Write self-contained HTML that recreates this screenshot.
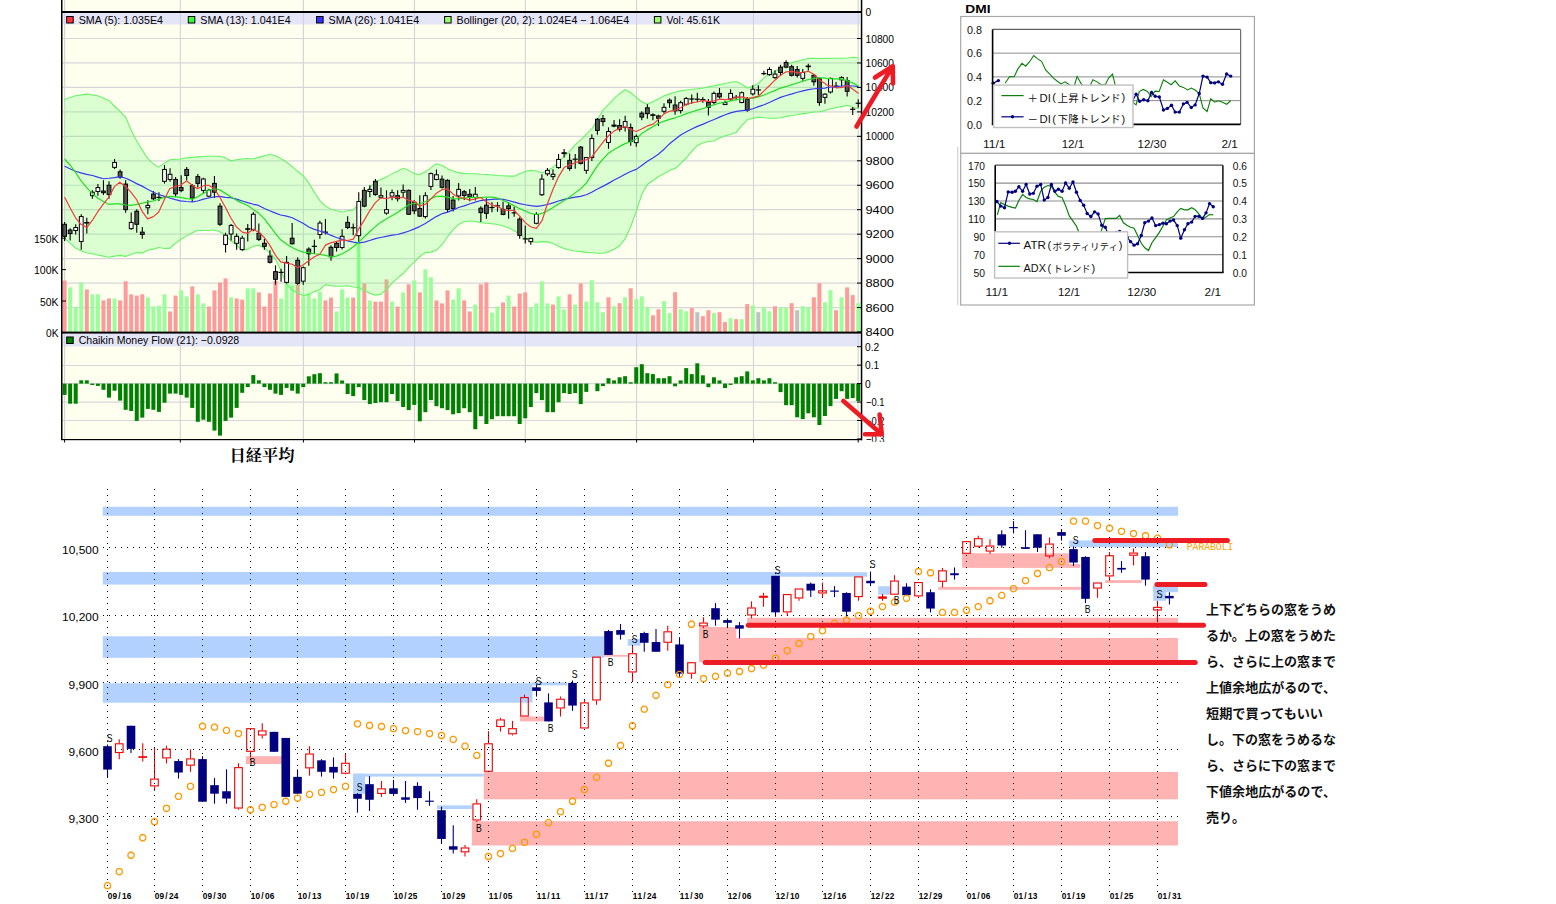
<!DOCTYPE html>
<html><head><meta charset="utf-8"><title>Nikkei chart</title>
<style>html,body{margin:0;padding:0;background:#fff;}svg{display:block;}</style></head>
<body><svg width="1556" height="904" viewBox="0 0 1556 904">
<rect width="1556" height="904" fill="#fff"/>
<rect x="62" y="0" width="799.5" height="439.5" fill="#FFFFF0"/>
<line x1="62" y1="307.54" x2="861.5" y2="307.54" stroke="#D6D6D9" stroke-width="1.2"/>
<line x1="62" y1="283.08" x2="861.5" y2="283.08" stroke="#D6D6D9" stroke-width="1.2"/>
<line x1="62" y1="258.63" x2="861.5" y2="258.63" stroke="#D6D6D9" stroke-width="1.2"/>
<line x1="62" y1="234.17" x2="861.5" y2="234.17" stroke="#D6D6D9" stroke-width="1.2"/>
<line x1="62" y1="209.71" x2="861.5" y2="209.71" stroke="#D6D6D9" stroke-width="1.2"/>
<line x1="62" y1="185.25" x2="861.5" y2="185.25" stroke="#D6D6D9" stroke-width="1.2"/>
<line x1="62" y1="160.79" x2="861.5" y2="160.79" stroke="#D6D6D9" stroke-width="1.2"/>
<line x1="62" y1="136.34" x2="861.5" y2="136.34" stroke="#D6D6D9" stroke-width="1.2"/>
<line x1="62" y1="111.88" x2="861.5" y2="111.88" stroke="#D6D6D9" stroke-width="1.2"/>
<line x1="62" y1="87.42" x2="861.5" y2="87.42" stroke="#D6D6D9" stroke-width="1.2"/>
<line x1="62" y1="62.96" x2="861.5" y2="62.96" stroke="#D6D6D9" stroke-width="1.2"/>
<line x1="62" y1="38.5" x2="861.5" y2="38.5" stroke="#D6D6D9" stroke-width="1.2"/>
<line x1="62" y1="365.5" x2="861.5" y2="365.5" stroke="#D6D6D9" stroke-width="1.2"/>
<line x1="62" y1="383.6" x2="861.5" y2="383.6" stroke="#D6D6D9" stroke-width="1.2"/>
<line x1="62" y1="402.1" x2="861.5" y2="402.1" stroke="#D6D6D9" stroke-width="1.2"/>
<line x1="62" y1="420.5" x2="861.5" y2="420.5" stroke="#D6D6D9" stroke-width="1.2"/>
<line x1="64.6" y1="0" x2="64.6" y2="439" stroke="#D6D6D9" stroke-width="1.2"/>
<line x1="180.3" y1="0" x2="180.3" y2="439" stroke="#D6D6D9" stroke-width="1.2"/>
<line x1="303.4" y1="0" x2="303.4" y2="439" stroke="#D6D6D9" stroke-width="1.2"/>
<line x1="414.5" y1="0" x2="414.5" y2="439" stroke="#D6D6D9" stroke-width="1.2"/>
<line x1="525.3" y1="0" x2="525.3" y2="439" stroke="#D6D6D9" stroke-width="1.2"/>
<line x1="636.6" y1="0" x2="636.6" y2="439" stroke="#D6D6D9" stroke-width="1.2"/>
<line x1="753.5" y1="0" x2="753.5" y2="439" stroke="#D6D6D9" stroke-width="1.2"/>
<line x1="858.2" y1="0" x2="858.2" y2="439" stroke="#D6D6D9" stroke-width="1.2"/>
<rect x="62.6" y="280.5" width="4" height="51.5" fill="#FF9A9A"/>
<rect x="68.15" y="287.4" width="4" height="44.6" fill="#9AFF9A"/>
<rect x="73.7" y="307.4" width="4" height="24.6" fill="#9AFF9A"/>
<rect x="79.25" y="282.5" width="4" height="49.5" fill="#9AFF9A"/>
<rect x="84.8" y="289.5" width="4" height="42.5" fill="#FF9A9A"/>
<rect x="90.35" y="294.3" width="4" height="37.7" fill="#9AFF9A"/>
<rect x="95.9" y="294.3" width="4" height="37.7" fill="#9AFF9A"/>
<rect x="101.45" y="300.4" width="4" height="31.6" fill="#FF9A9A"/>
<rect x="107" y="298.5" width="4" height="33.5" fill="#FF9A9A"/>
<rect x="112.55" y="298.5" width="4" height="33.5" fill="#9AFF9A"/>
<rect x="118.1" y="300.4" width="4" height="31.6" fill="#FF9A9A"/>
<rect x="123.65" y="281.3" width="4" height="50.7" fill="#FF9A9A"/>
<rect x="129.2" y="294.3" width="4" height="37.7" fill="#FF9A9A"/>
<rect x="134.75" y="295.6" width="4" height="36.4" fill="#FF9A9A"/>
<rect x="140.3" y="294.3" width="4" height="37.7" fill="#FF9A9A"/>
<rect x="145.85" y="297.6" width="4" height="34.4" fill="#9AFF9A"/>
<rect x="151.4" y="306.5" width="4" height="25.5" fill="#9AFF9A"/>
<rect x="156.95" y="305.6" width="4" height="26.4" fill="#9AFF9A"/>
<rect x="162.5" y="294.3" width="4" height="37.7" fill="#9AFF9A"/>
<rect x="168.05" y="311.5" width="4" height="20.5" fill="#FF9A9A"/>
<rect x="173.6" y="295.6" width="4" height="36.4" fill="#FF9A9A"/>
<rect x="179.15" y="290.4" width="4" height="41.6" fill="#9AFF9A"/>
<rect x="184.7" y="296.4" width="4" height="35.6" fill="#9AFF9A"/>
<rect x="190.25" y="286.4" width="4" height="45.6" fill="#FF9A9A"/>
<rect x="195.8" y="294.3" width="4" height="37.7" fill="#9AFF9A"/>
<rect x="201.35" y="303.4" width="4" height="28.6" fill="#9AFF9A"/>
<rect x="206.9" y="306.5" width="4" height="25.5" fill="#FF9A9A"/>
<rect x="212.45" y="290.4" width="4" height="41.6" fill="#FF9A9A"/>
<rect x="218" y="282.5" width="4" height="49.5" fill="#FF9A9A"/>
<rect x="223.55" y="278.4" width="4" height="53.6" fill="#FF9A9A"/>
<rect x="229.1" y="297.3" width="4" height="34.7" fill="#9AFF9A"/>
<rect x="234.65" y="298.5" width="4" height="33.5" fill="#FF9A9A"/>
<rect x="240.2" y="299.6" width="4" height="32.4" fill="#FF9A9A"/>
<rect x="245.75" y="288.3" width="4" height="43.7" fill="#9AFF9A"/>
<rect x="251.3" y="288.3" width="4" height="43.7" fill="#9AFF9A"/>
<rect x="256.85" y="292.4" width="4" height="39.6" fill="#FF9A9A"/>
<rect x="262.4" y="306.5" width="4" height="25.5" fill="#FF9A9A"/>
<rect x="267.95" y="293.5" width="4" height="38.5" fill="#FF9A9A"/>
<rect x="273.5" y="280.8" width="4" height="51.2" fill="#FF9A9A"/>
<rect x="279.05" y="298.5" width="4" height="33.5" fill="#9AFF9A"/>
<rect x="284.6" y="283.4" width="4" height="48.6" fill="#9AFF9A"/>
<rect x="290.15" y="285.5" width="4" height="46.5" fill="#9AFF9A"/>
<rect x="295.7" y="284.3" width="4" height="47.7" fill="#FF9A9A"/>
<rect x="301.25" y="296.4" width="4" height="35.6" fill="#9AFF9A"/>
<rect x="306.8" y="293.5" width="4" height="38.5" fill="#9AFF9A"/>
<rect x="312.35" y="298.5" width="4" height="33.5" fill="#9AFF9A"/>
<rect x="317.9" y="291.6" width="4" height="40.4" fill="#9AFF9A"/>
<rect x="323.45" y="300.4" width="4" height="31.6" fill="#FF9A9A"/>
<rect x="329" y="297.6" width="4" height="34.4" fill="#FF9A9A"/>
<rect x="334.55" y="311.5" width="4" height="20.5" fill="#9AFF9A"/>
<rect x="340.1" y="289.5" width="4" height="42.5" fill="#9AFF9A"/>
<rect x="345.65" y="297.6" width="4" height="34.4" fill="#9AFF9A"/>
<rect x="351.2" y="297.6" width="4" height="34.4" fill="#FF9A9A"/>
<rect x="357.15" y="242" width="3.2" height="90" fill="#80FF80"/>
<rect x="362.3" y="283.4" width="4" height="48.6" fill="#FF9A9A"/>
<rect x="367.85" y="300.4" width="4" height="31.6" fill="#9AFF9A"/>
<rect x="373.4" y="301.6" width="4" height="30.4" fill="#FF9A9A"/>
<rect x="378.95" y="301.6" width="4" height="30.4" fill="#FF9A9A"/>
<rect x="384.5" y="279.4" width="4" height="52.6" fill="#FF9A9A"/>
<rect x="390.05" y="301.6" width="4" height="30.4" fill="#9AFF9A"/>
<rect x="395.6" y="306.5" width="4" height="25.5" fill="#FF9A9A"/>
<rect x="401.15" y="292.4" width="4" height="39.6" fill="#9AFF9A"/>
<rect x="406.7" y="284.3" width="4" height="47.7" fill="#FF9A9A"/>
<rect x="412.25" y="280.5" width="4" height="51.5" fill="#9AFF9A"/>
<rect x="417.8" y="292.4" width="4" height="39.6" fill="#FF9A9A"/>
<rect x="423.35" y="269.3" width="4" height="62.7" fill="#9AFF9A"/>
<rect x="428.9" y="277.3" width="4" height="54.7" fill="#9AFF9A"/>
<rect x="434.45" y="300.4" width="4" height="31.6" fill="#FF9A9A"/>
<rect x="440" y="303.4" width="4" height="28.6" fill="#FF9A9A"/>
<rect x="445.55" y="290.4" width="4" height="41.6" fill="#FF9A9A"/>
<rect x="451.1" y="299.6" width="4" height="32.4" fill="#9AFF9A"/>
<rect x="456.65" y="288.3" width="4" height="43.7" fill="#9AFF9A"/>
<rect x="462.2" y="300.4" width="4" height="31.6" fill="#FF9A9A"/>
<rect x="467.75" y="311.5" width="4" height="20.5" fill="#FF9A9A"/>
<rect x="473.3" y="304.6" width="4" height="27.4" fill="#9AFF9A"/>
<rect x="478.85" y="284.3" width="4" height="47.7" fill="#FF9A9A"/>
<rect x="484.4" y="282.5" width="4" height="49.5" fill="#FF9A9A"/>
<rect x="489.95" y="312.6" width="4" height="19.4" fill="#9AFF9A"/>
<rect x="495.5" y="306.5" width="4" height="25.5" fill="#9AFF9A"/>
<rect x="501.05" y="302.5" width="4" height="29.5" fill="#FF9A9A"/>
<rect x="506.6" y="295.6" width="4" height="36.4" fill="#9AFF9A"/>
<rect x="512.15" y="306.5" width="4" height="25.5" fill="#FF9A9A"/>
<rect x="517.7" y="293.5" width="4" height="38.5" fill="#FF9A9A"/>
<rect x="523.25" y="292.4" width="4" height="39.6" fill="#FF9A9A"/>
<rect x="528.8" y="307.4" width="4" height="24.6" fill="#9AFF9A"/>
<rect x="534.35" y="303.4" width="4" height="28.6" fill="#9AFF9A"/>
<rect x="539.9" y="281.3" width="4" height="50.7" fill="#9AFF9A"/>
<rect x="545.45" y="303.4" width="4" height="28.6" fill="#9AFF9A"/>
<rect x="551" y="304.6" width="4" height="27.4" fill="#FF9A9A"/>
<rect x="556.55" y="296.4" width="4" height="35.6" fill="#9AFF9A"/>
<rect x="562.1" y="309.4" width="4" height="22.6" fill="#9AFF9A"/>
<rect x="567.65" y="294.3" width="4" height="37.7" fill="#FF9A9A"/>
<rect x="573.2" y="304.6" width="4" height="27.4" fill="#9AFF9A"/>
<rect x="578.75" y="283.4" width="4" height="48.6" fill="#FF9A9A"/>
<rect x="584.3" y="301.6" width="4" height="30.4" fill="#9AFF9A"/>
<rect x="589.85" y="280.2" width="4" height="51.8" fill="#9AFF9A"/>
<rect x="595.4" y="302.3" width="4" height="29.7" fill="#9AFF9A"/>
<rect x="600.95" y="312.2" width="4" height="19.8" fill="#9AFF9A"/>
<rect x="606.5" y="297.3" width="4" height="34.7" fill="#FF9A9A"/>
<rect x="612.05" y="306.3" width="4" height="25.7" fill="#9AFF9A"/>
<rect x="617.6" y="303.2" width="4" height="28.8" fill="#FF9A9A"/>
<rect x="623.15" y="297.3" width="4" height="34.7" fill="#9AFF9A"/>
<rect x="628.7" y="288.3" width="4" height="43.7" fill="#FF9A9A"/>
<rect x="634.25" y="299.1" width="4" height="32.9" fill="#9AFF9A"/>
<rect x="639.8" y="296.4" width="4" height="35.6" fill="#9AFF9A"/>
<rect x="645.35" y="307.2" width="4" height="24.8" fill="#9AFF9A"/>
<rect x="650.9" y="315.3" width="4" height="16.7" fill="#FF9A9A"/>
<rect x="656.45" y="309.3" width="4" height="22.7" fill="#FF9A9A"/>
<rect x="662" y="301.2" width="4" height="30.8" fill="#9AFF9A"/>
<rect x="667.55" y="313.1" width="4" height="18.9" fill="#9AFF9A"/>
<rect x="673.1" y="292.2" width="4" height="39.8" fill="#FF9A9A"/>
<rect x="678.65" y="309.3" width="4" height="22.7" fill="#9AFF9A"/>
<rect x="684.2" y="311.3" width="4" height="20.7" fill="#9AFF9A"/>
<rect x="689.75" y="308.1" width="4" height="23.9" fill="#FF9A9A"/>
<rect x="695.3" y="312.2" width="4" height="19.8" fill="#C0C0C0"/>
<rect x="700.85" y="316.2" width="4" height="15.8" fill="#FF9A9A"/>
<rect x="706.4" y="310.2" width="4" height="21.8" fill="#FF9A9A"/>
<rect x="711.95" y="313.1" width="4" height="18.9" fill="#9AFF9A"/>
<rect x="717.5" y="312.2" width="4" height="19.8" fill="#FF9A9A"/>
<rect x="723.05" y="322.1" width="4" height="9.9" fill="#FF9A9A"/>
<rect x="728.6" y="318.3" width="4" height="13.7" fill="#9AFF9A"/>
<rect x="734.15" y="319.2" width="4" height="12.8" fill="#FF9A9A"/>
<rect x="739.7" y="319.2" width="4" height="12.8" fill="#9AFF9A"/>
<rect x="745.25" y="304.1" width="4" height="27.9" fill="#FF9A9A"/>
<rect x="750.8" y="305.4" width="4" height="26.6" fill="#9AFF9A"/>
<rect x="756.35" y="312.2" width="4" height="19.8" fill="#C0C0C0"/>
<rect x="761.9" y="307.2" width="4" height="24.8" fill="#9AFF9A"/>
<rect x="767.45" y="311.3" width="4" height="20.7" fill="#9AFF9A"/>
<rect x="773" y="306.3" width="4" height="25.7" fill="#FF9A9A"/>
<rect x="778.55" y="307.2" width="4" height="24.8" fill="#9AFF9A"/>
<rect x="784.1" y="308.1" width="4" height="23.9" fill="#9AFF9A"/>
<rect x="789.65" y="303.2" width="4" height="28.8" fill="#FF9A9A"/>
<rect x="795.2" y="310.2" width="4" height="21.8" fill="#C0C0C0"/>
<rect x="800.75" y="306.3" width="4" height="25.7" fill="#9AFF9A"/>
<rect x="806.3" y="307.2" width="4" height="24.8" fill="#9AFF9A"/>
<rect x="811.85" y="297.3" width="4" height="34.7" fill="#FF9A9A"/>
<rect x="817.4" y="283.2" width="4" height="48.8" fill="#FF9A9A"/>
<rect x="822.95" y="302.3" width="4" height="29.7" fill="#9AFF9A"/>
<rect x="828.5" y="290.1" width="4" height="41.9" fill="#9AFF9A"/>
<rect x="834.05" y="310.2" width="4" height="21.8" fill="#FF9A9A"/>
<rect x="839.6" y="297.3" width="4" height="34.7" fill="#9AFF9A"/>
<rect x="845.15" y="287.4" width="4" height="44.6" fill="#FF9A9A"/>
<rect x="850.7" y="295.1" width="4" height="36.9" fill="#FF9A9A"/>
<rect x="856.25" y="303.2" width="4" height="28.8" fill="#9AFF9A"/>
<polygon points="64.6,100.26 64.65,99.29 75.56,95.81 86.71,94.18 97.63,95.81 108.78,100.45 114.59,106.26 119.7,110.91 125.74,117.41 130.85,129.49 136.66,141.1 142.46,150.39 147.57,158.52 153.38,163.87 158.72,167.12 164.53,163.17 169.64,159.69 180.33,158.99 186.6,157.83 197.51,156.9 208.66,156.2 219.81,156.2 225.39,157.83 230.73,160.85 236.54,159.69 242.35,158.99 247.69,158.52 253.5,158.99 258.59,157.36 264.4,155.74 269.74,154.58 275.55,155.74 280.66,158.52 286.47,162.01 292.28,166.66 297.62,171.3 303.43,175.95 308.77,182.92 314.34,192.21 319.69,200.34 325.49,206.14 330.6,208.93 336.41,210.79 342.45,211.95 347.56,210.79 353.37,210.09 358.48,203.82 364.29,195.69 369.63,187.56 375.44,181.75 380.55,179.43 386.35,177.11 392.16,173.62 397.5,171.3 403.31,168.28 408.42,170.14 414.46,173.62 419.57,174.79 425.38,171.77 430.72,167.82 436.3,163.87 442.33,165.49 447.67,168.71 453.24,171.03 458.58,172.66 464.16,173.36 469.5,173.82 475.31,173.82 480.65,174.29 486.46,174.52 492.26,174.98 497.61,175.45 503.18,175.68 508.52,176.14 514.33,176.14 519.67,173.82 525.25,171.5 530.59,170.34 536.4,171.03 542.21,172.66 547.32,171.03 553.12,167.32 558.47,162.21 564.27,156.4 569.62,151.06 575.19,144.79 580.53,140.14 586.34,134.33 592.15,128.52 597.49,119.23 603.3,109.94 608.87,104.13 614.22,98.33 619.56,93.68 625.13,89.73 630.48,92.52 636.27,97.36 642.08,102.01 647.42,104.33 653.23,101.54 658.34,98.99 664.38,95.74 669.49,93.88 675.3,92.25 680.64,90.86 686.45,89.93 692.25,89.23 697.36,88.77 703.17,88.07 708.51,86.91 714.09,85.75 719.43,84.59 725.24,83.43 730.58,82.26 736.39,81.57 742.2,84.59 747.77,88.07 753.58,85.75 758.46,83.43 764.03,77.62 769.37,74.13 775.18,71.35 780.52,68.33 786.33,64.84 792.14,62.52 797.25,61.36 803.05,59.73 808.4,58.34 814.2,58.34 819.31,58.57 825.12,58.34 832.02,58.23 842.37,58.23 847.55,57.94 853.59,57.23 858.62,57.94 858.62,108.84 853.59,107.55 847.55,105.25 842.37,106.4 836.62,107.55 832.02,108.55 826.27,109.99 825.12,110.84 819.31,111.77 814.2,112 808.4,112.93 803.05,113.62 797.25,114.79 792.14,115.48 786.33,116.41 780.52,117.8 775.18,118.27 769.37,118.27 764.03,117.8 758.46,117.11 753.58,118.27 747.77,119.43 742.2,125.24 736.39,132.21 730.58,134.53 725.24,135.69 719.43,138.01 714.09,141.03 708.51,141.5 703.17,142.66 697.36,145.45 692.25,150.79 686.45,157.76 680.64,163.57 675.3,168.21 669.49,170.53 664.38,173.55 658.34,176.81 653.23,180.52 647.42,184.47 642.08,193.76 636.27,211.18 630.48,227.25 625.13,238.86 619.56,245.83 614.22,249.31 608.87,251.64 603.3,253.26 597.49,253.26 592.15,252.8 586.34,252.33 580.53,251.64 575.19,250.94 569.62,250.01 564.27,248.62 558.47,246.3 553.12,243.51 547.32,241.88 542.21,241.65 536.4,242.35 530.59,241.18 525.25,238.4 519.67,234.22 514.33,230.73 508.52,227.71 503.18,226.09 497.61,224.46 492.26,223.76 486.46,223.3 480.65,222.6 475.31,221.44 469.5,220.98 464.16,221.44 458.58,224.46 453.24,229.57 447.67,236.54 442.33,244.47 436.3,250.28 430.72,252.14 425.38,252.6 419.57,256.78 414.46,261.89 408.42,267.7 403.31,273.51 397.5,278.15 392.16,282.8 386.35,289.77 380.55,294.41 375.44,295.11 369.63,293.25 364.29,290.23 358.48,287.44 353.37,286.98 347.56,285.82 342.45,286.28 336.41,286.28 330.6,285.59 325.49,284.66 319.69,289.77 314.34,291.63 308.77,294.41 303.43,295.57 297.62,293.25 292.28,289.77 286.47,283.96 280.66,270.02 275.55,259.57 269.74,252.6 264.4,247.96 258.59,245.17 253.5,246.1 247.69,249.12 242.35,250.28 236.54,245.17 230.73,240.52 225.39,235.18 219.81,231.7 214.47,230.07 208.66,230.53 197.51,230.53 192.4,232.86 186.6,235.88 180.33,239.83 175.45,243.31 169.64,248.42 164.53,248.42 158.72,247.49 153.38,249.12 147.57,250.28 142.46,253.07 136.66,252.6 130.85,254.46 125.74,256.32 119.7,255.39 114.59,256.09 108.78,257.25 103.44,256.09 97.63,254.92 92.52,253.76 86.71,253.07 80.91,250.74 75.56,247.96 70.45,243.31 64.65,238.66 64.6,235.34" fill="rgba(110,255,110,0.25)"/>
<polyline points="64.6,100.26 64.65,99.29 75.56,95.81 86.71,94.18 97.63,95.81 108.78,100.45 114.59,106.26 119.7,110.91 125.74,117.41 130.85,129.49 136.66,141.1 142.46,150.39 147.57,158.52 153.38,163.87 158.72,167.12 164.53,163.17 169.64,159.69 180.33,158.99 186.6,157.83 197.51,156.9 208.66,156.2 219.81,156.2 225.39,157.83 230.73,160.85 236.54,159.69 242.35,158.99 247.69,158.52 253.5,158.99 258.59,157.36 264.4,155.74 269.74,154.58 275.55,155.74 280.66,158.52 286.47,162.01 292.28,166.66 297.62,171.3 303.43,175.95 308.77,182.92 314.34,192.21 319.69,200.34 325.49,206.14 330.6,208.93 336.41,210.79 342.45,211.95 347.56,210.79 353.37,210.09 358.48,203.82 364.29,195.69 369.63,187.56 375.44,181.75 380.55,179.43 386.35,177.11 392.16,173.62 397.5,171.3 403.31,168.28 408.42,170.14 414.46,173.62 419.57,174.79 425.38,171.77 430.72,167.82 436.3,163.87 442.33,165.49 447.67,168.71 453.24,171.03 458.58,172.66 464.16,173.36 469.5,173.82 475.31,173.82 480.65,174.29 486.46,174.52 492.26,174.98 497.61,175.45 503.18,175.68 508.52,176.14 514.33,176.14 519.67,173.82 525.25,171.5 530.59,170.34 536.4,171.03 542.21,172.66 547.32,171.03 553.12,167.32 558.47,162.21 564.27,156.4 569.62,151.06 575.19,144.79 580.53,140.14 586.34,134.33 592.15,128.52 597.49,119.23 603.3,109.94 608.87,104.13 614.22,98.33 619.56,93.68 625.13,89.73 630.48,92.52 636.27,97.36 642.08,102.01 647.42,104.33 653.23,101.54 658.34,98.99 664.38,95.74 669.49,93.88 675.3,92.25 680.64,90.86 686.45,89.93 692.25,89.23 697.36,88.77 703.17,88.07 708.51,86.91 714.09,85.75 719.43,84.59 725.24,83.43 730.58,82.26 736.39,81.57 742.2,84.59 747.77,88.07 753.58,85.75 758.46,83.43 764.03,77.62 769.37,74.13 775.18,71.35 780.52,68.33 786.33,64.84 792.14,62.52 797.25,61.36 803.05,59.73 808.4,58.34 814.2,58.34 819.31,58.57 825.12,58.34 832.02,58.23 842.37,58.23 847.55,57.94 853.59,57.23 858.62,57.94" fill="none" stroke="#66F566" stroke-width="1.1"/>
<polyline points="64.6,235.34 64.65,238.66 70.45,243.31 75.56,247.96 80.91,250.74 86.71,253.07 92.52,253.76 97.63,254.92 103.44,256.09 108.78,257.25 114.59,256.09 119.7,255.39 125.74,256.32 130.85,254.46 136.66,252.6 142.46,253.07 147.57,250.28 153.38,249.12 158.72,247.49 164.53,248.42 169.64,248.42 175.45,243.31 180.33,239.83 186.6,235.88 192.4,232.86 197.51,230.53 208.66,230.53 214.47,230.07 219.81,231.7 225.39,235.18 230.73,240.52 236.54,245.17 242.35,250.28 247.69,249.12 253.5,246.1 258.59,245.17 264.4,247.96 269.74,252.6 275.55,259.57 280.66,270.02 286.47,283.96 292.28,289.77 297.62,293.25 303.43,295.57 308.77,294.41 314.34,291.63 319.69,289.77 325.49,284.66 330.6,285.59 336.41,286.28 342.45,286.28 347.56,285.82 353.37,286.98 358.48,287.44 364.29,290.23 369.63,293.25 375.44,295.11 380.55,294.41 386.35,289.77 392.16,282.8 397.5,278.15 403.31,273.51 408.42,267.7 414.46,261.89 419.57,256.78 425.38,252.6 430.72,252.14 436.3,250.28 442.33,244.47 447.67,236.54 453.24,229.57 458.58,224.46 464.16,221.44 469.5,220.98 475.31,221.44 480.65,222.6 486.46,223.3 492.26,223.76 497.61,224.46 503.18,226.09 508.52,227.71 514.33,230.73 519.67,234.22 525.25,238.4 530.59,241.18 536.4,242.35 542.21,241.65 547.32,241.88 553.12,243.51 558.47,246.3 564.27,248.62 569.62,250.01 575.19,250.94 580.53,251.64 586.34,252.33 592.15,252.8 597.49,253.26 603.3,253.26 608.87,251.64 614.22,249.31 619.56,245.83 625.13,238.86 630.48,227.25 636.27,211.18 642.08,193.76 647.42,184.47 653.23,180.52 658.34,176.81 664.38,173.55 669.49,170.53 675.3,168.21 680.64,163.57 686.45,157.76 692.25,150.79 697.36,145.45 703.17,142.66 708.51,141.5 714.09,141.03 719.43,138.01 725.24,135.69 730.58,134.53 736.39,132.21 742.2,125.24 747.77,119.43 753.58,118.27 758.46,117.11 764.03,117.8 769.37,118.27 775.18,118.27 780.52,117.8 786.33,116.41 792.14,115.48 797.25,114.79 803.05,113.62 808.4,112.93 814.2,112 819.31,111.77 825.12,110.84 826.27,109.99 832.02,108.55 836.62,107.55 842.37,106.4 847.55,105.25 853.59,107.55 858.62,108.84" fill="none" stroke="#66F566" stroke-width="1.1"/>
<line x1="64.6" y1="221.94" x2="64.6" y2="240.99" stroke="#000" stroke-width="1.1"/>
<rect x="62.7" y="224.26" width="3.8" height="12.08" fill="#555" stroke="#000" stroke-width="1"/>
<line x1="70.15" y1="228.21" x2="70.15" y2="240.52" stroke="#000" stroke-width="1.1"/>
<rect x="68.25" y="230.07" width="3.8" height="3.48" fill="#555" stroke="#000" stroke-width="1"/>
<line x1="75.7" y1="224.26" x2="75.7" y2="234.48" stroke="#000" stroke-width="1.1"/>
<rect x="73.8" y="227.51" width="3.8" height="3.02" fill="#fff" stroke="#000" stroke-width="1"/>
<line x1="81.25" y1="214.27" x2="81.25" y2="249.81" stroke="#000" stroke-width="1.1"/>
<rect x="79.35" y="216.6" width="3.8" height="24.85" fill="#fff" stroke="#000" stroke-width="1"/>
<line x1="86.8" y1="217.76" x2="86.8" y2="233.55" stroke="#000" stroke-width="1.1"/>
<line x1="84.2" y1="222.75" x2="89.4" y2="222.75" stroke="#000" stroke-width="1.63"/>
<line x1="92.35" y1="190.35" x2="92.35" y2="198.71" stroke="#000" stroke-width="1.1"/>
<rect x="90.45" y="192.21" width="3.8" height="3.48" fill="#fff" stroke="#000" stroke-width="1"/>
<line x1="97.9" y1="184.08" x2="97.9" y2="195.69" stroke="#000" stroke-width="1.1"/>
<rect x="96" y="187.56" width="3.8" height="3.95" fill="#fff" stroke="#000" stroke-width="1"/>
<line x1="103.45" y1="180.13" x2="103.45" y2="194.99" stroke="#000" stroke-width="1.1"/>
<rect x="101.55" y="191.05" width="3.8" height="1.63" fill="#555" stroke="#000" stroke-width="1"/>
<line x1="109" y1="181.29" x2="109" y2="198.71" stroke="#000" stroke-width="1.1"/>
<rect x="107.1" y="185.24" width="3.8" height="9.29" fill="#555" stroke="#000" stroke-width="1"/>
<line x1="114.55" y1="158.99" x2="114.55" y2="168.98" stroke="#000" stroke-width="1.1"/>
<rect x="112.65" y="162.47" width="3.8" height="4.88" fill="#fff" stroke="#000" stroke-width="1"/>
<line x1="120.1" y1="169.44" x2="120.1" y2="178.73" stroke="#000" stroke-width="1.1"/>
<rect x="118.2" y="171.77" width="3.8" height="5.34" fill="#555" stroke="#000" stroke-width="1"/>
<line x1="125.65" y1="180.13" x2="125.65" y2="212.65" stroke="#000" stroke-width="1.1"/>
<rect x="123.75" y="184.08" width="3.8" height="25.55" fill="#555" stroke="#000" stroke-width="1"/>
<line x1="131.2" y1="212.42" x2="131.2" y2="229.84" stroke="#000" stroke-width="1.1"/>
<rect x="129.3" y="222.4" width="3.8" height="6.27" fill="#fff" stroke="#000" stroke-width="1"/>
<line x1="136.75" y1="209.16" x2="136.75" y2="232.86" stroke="#000" stroke-width="1.1"/>
<rect x="134.85" y="211.25" width="3.8" height="13.01" fill="#555" stroke="#000" stroke-width="1"/>
<line x1="142.3" y1="227.05" x2="142.3" y2="238.66" stroke="#000" stroke-width="1.1"/>
<rect x="140.4" y="232.16" width="3.8" height="2.32" fill="#555" stroke="#000" stroke-width="1"/>
<line x1="147.85" y1="200.34" x2="147.85" y2="214.27" stroke="#000" stroke-width="1.1"/>
<rect x="145.95" y="205.45" width="3.8" height="2.32" fill="#fff" stroke="#000" stroke-width="1"/>
<line x1="153.4" y1="191.05" x2="153.4" y2="200.34" stroke="#000" stroke-width="1.1"/>
<rect x="151.5" y="194.07" width="3.8" height="4.65" fill="#555" stroke="#000" stroke-width="1"/>
<line x1="158.95" y1="192.21" x2="158.95" y2="201.03" stroke="#000" stroke-width="1.1"/>
<line x1="156.35" y1="197.43" x2="161.55" y2="197.43" stroke="#000" stroke-width="1.2"/>
<line x1="164.5" y1="165.03" x2="164.5" y2="183.61" stroke="#000" stroke-width="1.1"/>
<rect x="162.6" y="169.44" width="3.8" height="11.85" fill="#fff" stroke="#000" stroke-width="1"/>
<line x1="170.05" y1="168.28" x2="170.05" y2="181.75" stroke="#000" stroke-width="1.1"/>
<rect x="168.15" y="174.32" width="3.8" height="5.11" fill="#fff" stroke="#000" stroke-width="1"/>
<line x1="175.6" y1="177.11" x2="175.6" y2="196.85" stroke="#000" stroke-width="1.1"/>
<rect x="173.7" y="179.43" width="3.8" height="14.4" fill="#555" stroke="#000" stroke-width="1"/>
<line x1="181.15" y1="175.25" x2="181.15" y2="192.21" stroke="#000" stroke-width="1.1"/>
<rect x="179.25" y="187.56" width="3.8" height="3.02" fill="#555" stroke="#000" stroke-width="1"/>
<line x1="186.7" y1="167.12" x2="186.7" y2="180.59" stroke="#000" stroke-width="1.1"/>
<rect x="184.8" y="169.44" width="3.8" height="6.04" fill="#555" stroke="#000" stroke-width="1"/>
<line x1="192.25" y1="184.08" x2="192.25" y2="201.5" stroke="#000" stroke-width="1.1"/>
<rect x="190.35" y="185.7" width="3.8" height="12.31" fill="#555" stroke="#000" stroke-width="1"/>
<line x1="197.8" y1="174.09" x2="197.8" y2="187.56" stroke="#000" stroke-width="1.1"/>
<rect x="195.9" y="176.64" width="3.8" height="6.74" fill="#555" stroke="#000" stroke-width="1"/>
<line x1="203.35" y1="177.8" x2="203.35" y2="193.83" stroke="#000" stroke-width="1.1"/>
<rect x="201.45" y="178.97" width="3.8" height="11.38" fill="#fff" stroke="#000" stroke-width="1"/>
<line x1="208.9" y1="188.72" x2="208.9" y2="197.32" stroke="#000" stroke-width="1.1"/>
<rect x="207" y="190.35" width="3.8" height="5.81" fill="#fff" stroke="#000" stroke-width="1"/>
<line x1="214.45" y1="175.95" x2="214.45" y2="198.01" stroke="#000" stroke-width="1.1"/>
<rect x="212.55" y="183.38" width="3.8" height="8.83" fill="#555" stroke="#000" stroke-width="1"/>
<line x1="220" y1="203.36" x2="220" y2="225.89" stroke="#000" stroke-width="1.1"/>
<rect x="218.1" y="206.14" width="3.8" height="18.12" fill="#555" stroke="#000" stroke-width="1"/>
<line x1="225.55" y1="232.86" x2="225.55" y2="252.6" stroke="#000" stroke-width="1.1"/>
<rect x="223.65" y="235.18" width="3.8" height="9.29" fill="#fff" stroke="#000" stroke-width="1"/>
<line x1="231.1" y1="224.03" x2="231.1" y2="240.52" stroke="#000" stroke-width="1.1"/>
<rect x="229.2" y="225.42" width="3.8" height="8.59" fill="#fff" stroke="#000" stroke-width="1"/>
<line x1="236.65" y1="233.55" x2="236.65" y2="249.81" stroke="#000" stroke-width="1.1"/>
<rect x="234.75" y="236.34" width="3.8" height="6.97" fill="#fff" stroke="#000" stroke-width="1"/>
<line x1="242.2" y1="235.64" x2="242.2" y2="250.74" stroke="#000" stroke-width="1.1"/>
<rect x="240.3" y="238.2" width="3.8" height="11.38" fill="#fff" stroke="#000" stroke-width="1"/>
<line x1="247.75" y1="224.03" x2="247.75" y2="241.45" stroke="#000" stroke-width="1.1"/>
<line x1="245.15" y1="229.02" x2="250.35" y2="229.02" stroke="#000" stroke-width="1.63"/>
<line x1="253.3" y1="211.95" x2="253.3" y2="231.23" stroke="#000" stroke-width="1.1"/>
<rect x="251.4" y="214.27" width="3.8" height="15.1" fill="#fff" stroke="#000" stroke-width="1"/>
<line x1="258.85" y1="223.57" x2="258.85" y2="240.99" stroke="#000" stroke-width="1.1"/>
<rect x="256.95" y="233.32" width="3.8" height="6.04" fill="#555" stroke="#000" stroke-width="1"/>
<line x1="264.4" y1="238.66" x2="264.4" y2="249.81" stroke="#000" stroke-width="1.1"/>
<rect x="262.5" y="243.31" width="3.8" height="3.02" fill="#555" stroke="#000" stroke-width="1"/>
<line x1="269.95" y1="250.28" x2="269.95" y2="263.52" stroke="#000" stroke-width="1.1"/>
<rect x="268.05" y="256.09" width="3.8" height="6.27" fill="#555" stroke="#000" stroke-width="1"/>
<line x1="275.5" y1="265.38" x2="275.5" y2="284.66" stroke="#000" stroke-width="1.1"/>
<rect x="273.6" y="271.65" width="3.8" height="7.67" fill="#555" stroke="#000" stroke-width="1"/>
<line x1="281.05" y1="268.86" x2="281.05" y2="281.64" stroke="#000" stroke-width="1.1"/>
<line x1="278.45" y1="272.35" x2="283.65" y2="272.35" stroke="#000" stroke-width="1.2"/>
<line x1="286.6" y1="256.09" x2="286.6" y2="283.5" stroke="#000" stroke-width="1.1"/>
<rect x="284.7" y="262.36" width="3.8" height="19.98" fill="#fff" stroke="#000" stroke-width="1"/>
<line x1="292.15" y1="223.1" x2="292.15" y2="244.47" stroke="#000" stroke-width="1.1"/>
<rect x="290.25" y="238.2" width="3.8" height="5.57" fill="#555" stroke="#000" stroke-width="1"/>
<line x1="297.7" y1="257.25" x2="297.7" y2="284.66" stroke="#000" stroke-width="1.1"/>
<rect x="295.8" y="260.27" width="3.8" height="23" fill="#555" stroke="#000" stroke-width="1"/>
<line x1="303.25" y1="266.54" x2="303.25" y2="284.66" stroke="#000" stroke-width="1.1"/>
<rect x="301.35" y="267.7" width="3.8" height="13.47" fill="#fff" stroke="#000" stroke-width="1"/>
<line x1="308.8" y1="247.26" x2="308.8" y2="265.84" stroke="#000" stroke-width="1.1"/>
<rect x="306.9" y="249.12" width="3.8" height="4.65" fill="#555" stroke="#000" stroke-width="1"/>
<line x1="314.35" y1="239.83" x2="314.35" y2="253.76" stroke="#000" stroke-width="1.1"/>
<line x1="311.75" y1="246.33" x2="316.95" y2="246.33" stroke="#000" stroke-width="1.2"/>
<line x1="319.9" y1="220.78" x2="319.9" y2="238.66" stroke="#000" stroke-width="1.1"/>
<rect x="318" y="223.1" width="3.8" height="11.38" fill="#fff" stroke="#000" stroke-width="1"/>
<line x1="325.45" y1="218.92" x2="325.45" y2="234.48" stroke="#000" stroke-width="1.1"/>
<line x1="322.85" y1="232.16" x2="328.05" y2="232.16" stroke="#000" stroke-width="1.2"/>
<line x1="331" y1="245.17" x2="331" y2="260.73" stroke="#000" stroke-width="1.1"/>
<rect x="329.1" y="247.26" width="3.8" height="9.52" fill="#555" stroke="#000" stroke-width="1"/>
<line x1="336.55" y1="240.99" x2="336.55" y2="251.44" stroke="#000" stroke-width="1.1"/>
<rect x="334.65" y="243.31" width="3.8" height="4.18" fill="#555" stroke="#000" stroke-width="1"/>
<line x1="342.1" y1="229.37" x2="342.1" y2="249.58" stroke="#000" stroke-width="1.1"/>
<rect x="340.2" y="236.34" width="3.8" height="11.15" fill="#fff" stroke="#000" stroke-width="1"/>
<line x1="347.65" y1="216.13" x2="347.65" y2="228.91" stroke="#000" stroke-width="1.1"/>
<rect x="345.75" y="222.4" width="3.8" height="5.11" fill="#555" stroke="#000" stroke-width="1"/>
<line x1="353.2" y1="223.57" x2="353.2" y2="235.18" stroke="#000" stroke-width="1.1"/>
<line x1="350.6" y1="227.75" x2="355.8" y2="227.75" stroke="#000" stroke-width="1.2"/>
<line x1="358.75" y1="192.21" x2="358.75" y2="242.15" stroke="#000" stroke-width="1.1"/>
<rect x="356.85" y="201.5" width="3.8" height="34.15" fill="#fff" stroke="#000" stroke-width="1"/>
<line x1="364.3" y1="187.1" x2="364.3" y2="207.31" stroke="#000" stroke-width="1.1"/>
<rect x="362.4" y="190.35" width="3.8" height="15.8" fill="#555" stroke="#000" stroke-width="1"/>
<line x1="369.85" y1="185.24" x2="369.85" y2="197.32" stroke="#000" stroke-width="1.1"/>
<rect x="367.95" y="189.42" width="3.8" height="2.09" fill="#fff" stroke="#000" stroke-width="1"/>
<line x1="375.4" y1="178.97" x2="375.4" y2="195.69" stroke="#000" stroke-width="1.1"/>
<rect x="373.5" y="181.29" width="3.8" height="13.24" fill="#555" stroke="#000" stroke-width="1"/>
<line x1="380.95" y1="187.56" x2="380.95" y2="198.01" stroke="#000" stroke-width="1.1"/>
<rect x="379.05" y="195.69" width="3.8" height="1.63" fill="#fff" stroke="#000" stroke-width="1"/>
<line x1="386.5" y1="190.35" x2="386.5" y2="214.74" stroke="#000" stroke-width="1.1"/>
<rect x="384.6" y="209.63" width="3.8" height="3.48" fill="#fff" stroke="#000" stroke-width="1"/>
<line x1="392.05" y1="189.42" x2="392.05" y2="200.34" stroke="#000" stroke-width="1.1"/>
<rect x="390.15" y="192.67" width="3.8" height="3.48" fill="#fff" stroke="#000" stroke-width="1"/>
<line x1="397.6" y1="190.35" x2="397.6" y2="201.5" stroke="#000" stroke-width="1.1"/>
<rect x="395.7" y="195.69" width="3.8" height="3.02" fill="#555" stroke="#000" stroke-width="1"/>
<line x1="403.15" y1="184.54" x2="403.15" y2="198.01" stroke="#000" stroke-width="1.1"/>
<rect x="401.25" y="190.35" width="3.8" height="1.86" fill="#fff" stroke="#000" stroke-width="1"/>
<line x1="408.7" y1="189.42" x2="408.7" y2="214.97" stroke="#000" stroke-width="1.1"/>
<rect x="406.8" y="190.35" width="3.8" height="23.93" fill="#555" stroke="#000" stroke-width="1"/>
<line x1="414.25" y1="200.34" x2="414.25" y2="214.27" stroke="#000" stroke-width="1.1"/>
<rect x="412.35" y="202.2" width="3.8" height="8.59" fill="#555" stroke="#000" stroke-width="1"/>
<line x1="419.8" y1="195.23" x2="419.8" y2="217.06" stroke="#000" stroke-width="1.1"/>
<rect x="417.9" y="208.47" width="3.8" height="7.67" fill="#555" stroke="#000" stroke-width="1"/>
<line x1="425.35" y1="192.21" x2="425.35" y2="218.46" stroke="#000" stroke-width="1.1"/>
<rect x="423.45" y="195.69" width="3.8" height="20.91" fill="#fff" stroke="#000" stroke-width="1"/>
<line x1="430.9" y1="172.46" x2="430.9" y2="189.88" stroke="#000" stroke-width="1.1"/>
<rect x="429" y="173.62" width="3.8" height="12.78" fill="#fff" stroke="#000" stroke-width="1"/>
<line x1="436.45" y1="169.44" x2="436.45" y2="180.13" stroke="#000" stroke-width="1.1"/>
<rect x="434.55" y="174.79" width="3.8" height="4.65" fill="#fff" stroke="#000" stroke-width="1"/>
<line x1="442" y1="175.45" x2="442" y2="188.46" stroke="#000" stroke-width="1.1"/>
<rect x="440.1" y="179.16" width="3.8" height="8.13" fill="#555" stroke="#000" stroke-width="1"/>
<line x1="447.55" y1="179.16" x2="447.55" y2="212.15" stroke="#000" stroke-width="1.1"/>
<rect x="445.65" y="180.33" width="3.8" height="29.04" fill="#555" stroke="#000" stroke-width="1"/>
<line x1="453.1" y1="195.89" x2="453.1" y2="211.45" stroke="#000" stroke-width="1.1"/>
<rect x="451.2" y="200.07" width="3.8" height="8.59" fill="#555" stroke="#000" stroke-width="1"/>
<line x1="458.65" y1="183.11" x2="458.65" y2="200.53" stroke="#000" stroke-width="1.1"/>
<rect x="456.75" y="189.38" width="3.8" height="6.5" fill="#fff" stroke="#000" stroke-width="1"/>
<line x1="464.2" y1="190.08" x2="464.2" y2="200.07" stroke="#000" stroke-width="1.1"/>
<rect x="462.3" y="191.71" width="3.8" height="3.72" fill="#555" stroke="#000" stroke-width="1"/>
<line x1="469.75" y1="188.92" x2="469.75" y2="201.23" stroke="#000" stroke-width="1.1"/>
<rect x="467.85" y="194.26" width="3.8" height="2.79" fill="#555" stroke="#000" stroke-width="1"/>
<line x1="475.3" y1="187.06" x2="475.3" y2="200.53" stroke="#000" stroke-width="1.1"/>
<rect x="473.4" y="194.26" width="3.8" height="3.25" fill="#fff" stroke="#000" stroke-width="1"/>
<line x1="480.85" y1="206.34" x2="480.85" y2="221.9" stroke="#000" stroke-width="1.1"/>
<rect x="478.95" y="208.2" width="3.8" height="4.41" fill="#555" stroke="#000" stroke-width="1"/>
<line x1="486.4" y1="198.21" x2="486.4" y2="218.65" stroke="#000" stroke-width="1.1"/>
<rect x="484.5" y="205.18" width="3.8" height="8.13" fill="#555" stroke="#000" stroke-width="1"/>
<line x1="491.95" y1="202.16" x2="491.95" y2="212.15" stroke="#000" stroke-width="1.1"/>
<line x1="489.35" y1="207.5" x2="494.55" y2="207.5" stroke="#000" stroke-width="1.2"/>
<line x1="497.5" y1="202.16" x2="497.5" y2="211.68" stroke="#000" stroke-width="1.1"/>
<line x1="494.9" y1="205.88" x2="500.1" y2="205.88" stroke="#000" stroke-width="1.2"/>
<line x1="503.05" y1="201.7" x2="503.05" y2="215.17" stroke="#000" stroke-width="1.1"/>
<rect x="501.15" y="209.36" width="3.8" height="5.11" fill="#555" stroke="#000" stroke-width="1"/>
<line x1="508.6" y1="202.16" x2="508.6" y2="218.65" stroke="#000" stroke-width="1.1"/>
<rect x="506.7" y="205.88" width="3.8" height="2.79" fill="#555" stroke="#000" stroke-width="1"/>
<line x1="514.15" y1="206.81" x2="514.15" y2="216.79" stroke="#000" stroke-width="1.1"/>
<line x1="511.55" y1="212.85" x2="516.75" y2="212.85" stroke="#000" stroke-width="1.2"/>
<line x1="519.7" y1="217.26" x2="519.7" y2="238.86" stroke="#000" stroke-width="1.1"/>
<rect x="517.8" y="219.12" width="3.8" height="16.26" fill="#555" stroke="#000" stroke-width="1"/>
<line x1="525.25" y1="225.39" x2="525.25" y2="243.51" stroke="#000" stroke-width="1.1"/>
<line x1="522.65" y1="238.86" x2="527.85" y2="238.86" stroke="#000" stroke-width="1.2"/>
<line x1="530.8" y1="237.7" x2="530.8" y2="244.67" stroke="#000" stroke-width="1.1"/>
<rect x="528.9" y="238.4" width="3.8" height="3.25" fill="#fff" stroke="#000" stroke-width="1"/>
<line x1="536.35" y1="212.15" x2="536.35" y2="224.23" stroke="#000" stroke-width="1.1"/>
<rect x="534.45" y="214.47" width="3.8" height="8.83" fill="#fff" stroke="#000" stroke-width="1"/>
<line x1="541.9" y1="174.29" x2="541.9" y2="195.89" stroke="#000" stroke-width="1.1"/>
<rect x="540" y="179.16" width="3.8" height="15.56" fill="#fff" stroke="#000" stroke-width="1"/>
<line x1="547.45" y1="168.01" x2="547.45" y2="175.68" stroke="#000" stroke-width="1.1"/>
<rect x="545.55" y="170.34" width="3.8" height="3.48" fill="#fff" stroke="#000" stroke-width="1"/>
<line x1="553" y1="169.18" x2="553" y2="180.09" stroke="#000" stroke-width="1.1"/>
<rect x="551.1" y="174.29" width="3.8" height="2.32" fill="#fff" stroke="#000" stroke-width="1"/>
<line x1="558.55" y1="154.08" x2="558.55" y2="168.71" stroke="#000" stroke-width="1.1"/>
<rect x="556.65" y="159.42" width="3.8" height="8.13" fill="#fff" stroke="#000" stroke-width="1"/>
<line x1="564.1" y1="148.97" x2="564.1" y2="157.56" stroke="#000" stroke-width="1.1"/>
<line x1="561.5" y1="153.15" x2="566.7" y2="153.15" stroke="#000" stroke-width="1.86"/>
<line x1="569.65" y1="153.38" x2="569.65" y2="170.8" stroke="#000" stroke-width="1.1"/>
<rect x="567.75" y="160.35" width="3.8" height="8.13" fill="#555" stroke="#000" stroke-width="1"/>
<line x1="575.2" y1="154.08" x2="575.2" y2="168.71" stroke="#000" stroke-width="1.1"/>
<line x1="572.6" y1="159.19" x2="577.8" y2="159.19" stroke="#000" stroke-width="1.2"/>
<line x1="580.75" y1="145.95" x2="580.75" y2="164.53" stroke="#000" stroke-width="1.1"/>
<rect x="578.85" y="147.11" width="3.8" height="16.26" fill="#555" stroke="#000" stroke-width="1"/>
<line x1="586.3" y1="157.1" x2="586.3" y2="173.82" stroke="#000" stroke-width="1.1"/>
<rect x="584.4" y="157.56" width="3.8" height="12.78" fill="#fff" stroke="#000" stroke-width="1"/>
<line x1="591.85" y1="134.33" x2="591.85" y2="161.05" stroke="#000" stroke-width="1.1"/>
<rect x="589.95" y="138.51" width="3.8" height="19.05" fill="#fff" stroke="#000" stroke-width="1"/>
<line x1="597.4" y1="118.07" x2="597.4" y2="134.8" stroke="#000" stroke-width="1.1"/>
<rect x="595.5" y="119.23" width="3.8" height="11.15" fill="#555" stroke="#000" stroke-width="1"/>
<line x1="602.95" y1="115.05" x2="602.95" y2="126.2" stroke="#000" stroke-width="1.1"/>
<rect x="601.05" y="118.54" width="3.8" height="3.02" fill="#555" stroke="#000" stroke-width="1"/>
<line x1="608.5" y1="127.36" x2="608.5" y2="148.73" stroke="#000" stroke-width="1.1"/>
<rect x="606.6" y="131.54" width="3.8" height="10.92" fill="#fff" stroke="#000" stroke-width="1"/>
<line x1="614.05" y1="119.93" x2="614.05" y2="127.36" stroke="#000" stroke-width="1.1"/>
<line x1="611.45" y1="125.62" x2="616.65" y2="125.62" stroke="#000" stroke-width="2.09"/>
<line x1="619.6" y1="119.23" x2="619.6" y2="131.54" stroke="#000" stroke-width="1.1"/>
<rect x="617.7" y="125.51" width="3.8" height="3.72" fill="#555" stroke="#000" stroke-width="1"/>
<line x1="625.15" y1="115.75" x2="625.15" y2="131.54" stroke="#000" stroke-width="1.1"/>
<rect x="623.25" y="121.56" width="3.8" height="5.81" fill="#fff" stroke="#000" stroke-width="1"/>
<line x1="630.7" y1="123.38" x2="630.7" y2="145.68" stroke="#000" stroke-width="1.1"/>
<rect x="628.8" y="127.56" width="3.8" height="13.94" fill="#555" stroke="#000" stroke-width="1"/>
<line x1="636.25" y1="134.53" x2="636.25" y2="146.84" stroke="#000" stroke-width="1.1"/>
<rect x="634.35" y="136.39" width="3.8" height="6.27" fill="#fff" stroke="#000" stroke-width="1"/>
<line x1="641.8" y1="111.3" x2="641.8" y2="120.13" stroke="#000" stroke-width="1.1"/>
<rect x="639.9" y="113.16" width="3.8" height="3.95" fill="#555" stroke="#000" stroke-width="1"/>
<line x1="647.35" y1="104.33" x2="647.35" y2="118.73" stroke="#000" stroke-width="1.1"/>
<rect x="645.45" y="107.82" width="3.8" height="5.81" fill="#555" stroke="#000" stroke-width="1"/>
<line x1="652.9" y1="113.16" x2="652.9" y2="120.13" stroke="#000" stroke-width="1.1"/>
<line x1="650.3" y1="115.13" x2="655.5" y2="115.13" stroke="#000" stroke-width="1.63"/>
<line x1="658.45" y1="114.79" x2="658.45" y2="125.93" stroke="#000" stroke-width="1.1"/>
<rect x="656.55" y="115.95" width="3.8" height="2.32" fill="#555" stroke="#000" stroke-width="1"/>
<line x1="664" y1="103.17" x2="664" y2="113.62" stroke="#000" stroke-width="1.1"/>
<rect x="662.1" y="107.35" width="3.8" height="3.95" fill="#fff" stroke="#000" stroke-width="1"/>
<line x1="669.55" y1="98.52" x2="669.55" y2="107.82" stroke="#000" stroke-width="1.1"/>
<rect x="667.65" y="100.15" width="3.8" height="2.56" fill="#555" stroke="#000" stroke-width="1"/>
<line x1="675.1" y1="96.2" x2="675.1" y2="114.79" stroke="#000" stroke-width="1.1"/>
<rect x="673.2" y="105.03" width="3.8" height="5.81" fill="#555" stroke="#000" stroke-width="1"/>
<line x1="680.65" y1="100.85" x2="680.65" y2="113.62" stroke="#000" stroke-width="1.1"/>
<rect x="678.75" y="102.71" width="3.8" height="7.9" fill="#fff" stroke="#000" stroke-width="1"/>
<line x1="686.2" y1="96.9" x2="686.2" y2="105.49" stroke="#000" stroke-width="1.1"/>
<rect x="684.3" y="98.52" width="3.8" height="5.81" fill="#fff" stroke="#000" stroke-width="1"/>
<line x1="691.75" y1="94.58" x2="691.75" y2="103.87" stroke="#000" stroke-width="1.1"/>
<line x1="689.15" y1="98.99" x2="694.35" y2="98.99" stroke="#000" stroke-width="1.2"/>
<line x1="697.3" y1="92.72" x2="697.3" y2="102.01" stroke="#000" stroke-width="1.1"/>
<line x1="694.7" y1="99.22" x2="699.9" y2="99.22" stroke="#000" stroke-width="1.2"/>
<line x1="702.85" y1="96.9" x2="702.85" y2="102.71" stroke="#000" stroke-width="1.1"/>
<line x1="700.25" y1="99.69" x2="705.45" y2="99.69" stroke="#000" stroke-width="1.39"/>
<line x1="708.4" y1="98.99" x2="708.4" y2="115.48" stroke="#000" stroke-width="1.1"/>
<rect x="706.5" y="102.47" width="3.8" height="4.88" fill="#555" stroke="#000" stroke-width="1"/>
<line x1="713.95" y1="91.56" x2="713.95" y2="104.8" stroke="#000" stroke-width="1.1"/>
<rect x="712.05" y="93.41" width="3.8" height="9.06" fill="#fff" stroke="#000" stroke-width="1"/>
<line x1="719.5" y1="88.07" x2="719.5" y2="98.52" stroke="#000" stroke-width="1.1"/>
<rect x="717.6" y="93.41" width="3.8" height="3.48" fill="#555" stroke="#000" stroke-width="1"/>
<line x1="725.05" y1="100.85" x2="725.05" y2="105.03" stroke="#000" stroke-width="1.1"/>
<rect x="723.15" y="102.71" width="3.8" height="1.86" fill="#fff" stroke="#000" stroke-width="1"/>
<line x1="730.6" y1="89.23" x2="730.6" y2="100.85" stroke="#000" stroke-width="1.1"/>
<rect x="728.7" y="93.41" width="3.8" height="5.57" fill="#fff" stroke="#000" stroke-width="1"/>
<line x1="736.15" y1="95.04" x2="736.15" y2="100.15" stroke="#000" stroke-width="1.1"/>
<line x1="733.55" y1="97.36" x2="738.75" y2="97.36" stroke="#000" stroke-width="1.2"/>
<line x1="741.7" y1="91.56" x2="741.7" y2="103.17" stroke="#000" stroke-width="1.1"/>
<rect x="739.8" y="92.72" width="3.8" height="9.76" fill="#fff" stroke="#000" stroke-width="1"/>
<line x1="747.25" y1="96.9" x2="747.25" y2="111.77" stroke="#000" stroke-width="1.1"/>
<rect x="745.35" y="99.22" width="3.8" height="10.92" fill="#555" stroke="#000" stroke-width="1"/>
<line x1="752.8" y1="85.28" x2="752.8" y2="95.51" stroke="#000" stroke-width="1.1"/>
<rect x="750.9" y="89.23" width="3.8" height="4.65" fill="#fff" stroke="#000" stroke-width="1"/>
<line x1="758.35" y1="85.28" x2="758.35" y2="95.04" stroke="#000" stroke-width="1.1"/>
<line x1="755.75" y1="89.93" x2="760.95" y2="89.93" stroke="#000" stroke-width="1.2"/>
<line x1="763.9" y1="70.65" x2="763.9" y2="75.3" stroke="#000" stroke-width="1.1"/>
<line x1="761.3" y1="73.67" x2="766.5" y2="73.67" stroke="#000" stroke-width="1.2"/>
<line x1="769.45" y1="67.17" x2="769.45" y2="75.76" stroke="#000" stroke-width="1.1"/>
<rect x="767.55" y="69.49" width="3.8" height="5.11" fill="#fff" stroke="#000" stroke-width="1"/>
<line x1="775" y1="70.19" x2="775" y2="78.78" stroke="#000" stroke-width="1.1"/>
<rect x="773.1" y="74.13" width="3.8" height="3.48" fill="#fff" stroke="#000" stroke-width="1"/>
<line x1="780.55" y1="64.84" x2="780.55" y2="75.76" stroke="#000" stroke-width="1.1"/>
<rect x="778.65" y="67.17" width="3.8" height="5.34" fill="#555" stroke="#000" stroke-width="1"/>
<line x1="786.1" y1="60.2" x2="786.1" y2="68.33" stroke="#000" stroke-width="1.1"/>
<rect x="784.2" y="62.52" width="3.8" height="4.65" fill="#555" stroke="#000" stroke-width="1"/>
<line x1="791.65" y1="64.84" x2="791.65" y2="76.46" stroke="#000" stroke-width="1.1"/>
<rect x="789.75" y="66.7" width="3.8" height="8.59" fill="#555" stroke="#000" stroke-width="1"/>
<line x1="797.2" y1="66" x2="797.2" y2="77.62" stroke="#000" stroke-width="1.1"/>
<rect x="795.3" y="69.49" width="3.8" height="5.81" fill="#555" stroke="#000" stroke-width="1"/>
<line x1="802.75" y1="69.02" x2="802.75" y2="80.64" stroke="#000" stroke-width="1.1"/>
<rect x="800.85" y="72.51" width="3.8" height="5.81" fill="#fff" stroke="#000" stroke-width="1"/>
<line x1="808.3" y1="63.68" x2="808.3" y2="70.65" stroke="#000" stroke-width="1.1"/>
<line x1="805.7" y1="66.35" x2="810.9" y2="66.35" stroke="#000" stroke-width="1.63"/>
<line x1="813.85" y1="74.13" x2="813.85" y2="85.75" stroke="#000" stroke-width="1.1"/>
<rect x="811.95" y="75.3" width="3.8" height="6.5" fill="#555" stroke="#000" stroke-width="1"/>
<line x1="819.4" y1="77.64" x2="819.4" y2="105.68" stroke="#000" stroke-width="1.1"/>
<rect x="817.5" y="78.79" width="3.8" height="23.72" fill="#555" stroke="#000" stroke-width="1"/>
<line x1="824.95" y1="93.17" x2="824.95" y2="103.81" stroke="#000" stroke-width="1.1"/>
<rect x="823.05" y="94.18" width="3.8" height="3.16" fill="#fff" stroke="#000" stroke-width="1"/>
<line x1="830.5" y1="77.64" x2="830.5" y2="93.46" stroke="#000" stroke-width="1.1"/>
<rect x="828.6" y="78.36" width="3.8" height="13.66" fill="#fff" stroke="#000" stroke-width="1"/>
<line x1="836.05" y1="81.96" x2="836.05" y2="87.99" stroke="#000" stroke-width="1.1"/>
<line x1="833.45" y1="86.41" x2="838.65" y2="86.41" stroke="#000" stroke-width="1.73"/>
<line x1="841.6" y1="76.2" x2="841.6" y2="86.27" stroke="#000" stroke-width="1.1"/>
<rect x="839.7" y="77.64" width="3.8" height="2.16" fill="#fff" stroke="#000" stroke-width="1"/>
<line x1="847.15" y1="76.92" x2="847.15" y2="96.62" stroke="#000" stroke-width="1.1"/>
<rect x="845.25" y="80.52" width="3.8" height="10.78" fill="#555" stroke="#000" stroke-width="1"/>
<line x1="852.7" y1="107.12" x2="852.7" y2="115.03" stroke="#000" stroke-width="1.1"/>
<line x1="850.1" y1="109.27" x2="855.3" y2="109.27" stroke="#000" stroke-width="1.2"/>
<line x1="858.25" y1="99.21" x2="858.25" y2="107.84" stroke="#000" stroke-width="1.1"/>
<line x1="855.65" y1="103.24" x2="860.85" y2="103.24" stroke="#000" stroke-width="1.2"/>
<polyline points="64.6,166.19 64.65,166.19 70.45,168.98 75.56,171.3 80.91,172.93 86.71,174.32 92.52,175.48 97.63,177.11 103.44,178.73 108.78,178.27 114.59,177.57 119.7,176.64 125.74,178.27 130.85,180.59 136.66,183.61 142.46,186.4 147.57,189.19 153.38,192.21 158.72,194.53 164.53,196.39 169.64,198.01 175.45,199.64 180.33,200.8 186.6,201.5 192.4,201.96 197.51,201.03 203.55,199.18 208.66,198.01 214.47,196.85 219.81,196.39 225.39,197.32 230.73,197.55 236.54,199.18 242.35,201.03 247.69,202.66 253.5,204.29 258.59,205.45 264.4,208.47 269.74,210.79 275.55,213.11 280.66,214.97 286.47,216.13 292.28,217.76 297.62,220.55 303.43,223.57 308.77,227.05 314.34,229.37 319.69,231 325.49,232.86 330.6,235.18 336.41,237.5 342.45,239.36 347.56,240.99 353.37,242.15 358.48,242.85 364.29,242.15 369.63,240.52 375.44,238.66 380.55,237.5 386.35,236.34 392.16,235.18 397.5,234.48 403.31,232.86 408.42,231.23 414.46,228.91 419.57,226.59 425.38,223.57 430.72,220.08 436.3,216.6 442.33,213.58 447.67,212.15 453.24,209.83 458.58,207.5 464.16,205.88 469.5,204.02 475.31,202.16 480.65,200.53 486.46,199.84 492.26,199.37 497.61,198.91 503.18,199.37 508.52,200.53 514.33,202.16 519.67,203.55 525.25,204.72 530.59,205.64 536.4,206.34 542.21,205.64 547.32,204.48 553.12,202.86 558.47,201 564.27,199.37 569.62,198.21 575.19,197.05 580.53,196.35 586.34,194.73 592.15,191.94 597.49,188.92 603.3,186.13 608.87,183.11 614.22,180.09 619.56,177.31 625.13,174.29 630.48,171.5 636.27,169.37 642.08,165.19 647.42,161.24 653.23,157.76 658.34,154.27 664.38,148.93 669.49,143.82 675.3,139.18 680.64,134.99 686.45,131.74 692.25,128.72 697.36,126.4 703.17,124.08 708.51,121.75 714.09,119.43 719.43,117.11 725.24,114.79 730.58,112.93 736.39,111.3 742.2,110.6 747.77,110.14 753.58,108.51 758.46,106.66 764.03,104.8 769.37,102.47 775.18,99.69 780.52,97.36 786.33,95.51 792.14,93.88 797.25,92.25 803.05,90.86 808.4,89.7 814.2,88.77 819.31,88.3 825.12,88.07 826.27,87.71 832.02,86.99 836.62,86.56 842.37,85.98 847.55,85.84 853.59,85.98 858.62,86.7" fill="none" stroke="#3838F0" stroke-width="1.2" stroke-linejoin="round"/>
<polyline points="64.6,159.22 64.65,159.22 70.45,165.49 75.56,172.46 80.91,180.59 86.71,187.56 92.52,193.83 97.63,198.01 103.44,201.5 108.78,204.29 114.59,203.82 119.7,203.82 125.74,204.98 130.85,205.45 136.66,204.29 142.46,203.12 147.57,201.96 153.38,201.03 158.72,199.18 164.53,197.32 169.64,196.39 175.45,196.85 180.33,197.32 186.6,198.71 192.4,199.18 197.51,196.85 203.55,193.37 208.66,190.35 214.47,188.72 219.81,189.88 225.39,193.37 230.73,196.85 236.54,200.34 242.35,203.12 247.69,205.45 253.5,209.63 258.59,213.11 264.4,218.92 269.74,225.89 275.55,233.55 280.66,239.83 286.47,244.01 292.28,247.49 297.62,250.28 303.43,252.14 308.77,252.6 314.34,253.76 319.69,254.46 325.49,255.39 330.6,256.78 336.41,256.09 342.45,253.76 347.56,250.74 353.37,246.79 358.48,242.15 364.29,236.81 369.63,231.7 375.44,226.59 380.55,222.4 386.35,218.92 392.16,215.44 397.5,212.42 403.31,208.47 408.42,204.98 414.46,203.12 419.57,204.29 425.38,201.5 430.72,198.71 436.3,196.39 442.33,196.39 447.67,197.05 453.24,198.68 458.58,198.91 464.16,198.21 469.5,197.51 475.31,197.05 480.65,197.51 486.46,197.05 492.26,197.05 497.61,198.21 503.18,200.53 508.52,202.86 514.33,205.88 519.67,208.66 525.25,210.99 530.59,213.31 536.4,214.47 542.21,213.31 547.32,210.99 553.12,207.5 558.47,204.02 564.27,200.53 569.62,197.05 575.19,192.87 580.53,188.92 586.34,183.11 592.15,173.82 597.49,165.69 603.3,158.72 608.87,152.92 614.22,149.43 619.56,146.41 625.13,143.62 630.48,141.77 636.27,138.71 642.08,133.37 647.42,129.88 653.23,126.4 658.34,123.38 664.38,121.06 669.49,119.43 675.3,117.8 680.64,115.95 686.45,113.62 692.25,111.77 697.36,110.14 703.17,108.51 708.51,106.66 714.09,104.8 719.43,103.17 725.24,102.01 730.58,100.85 736.39,99.69 742.2,98.99 747.77,98.52 753.58,98.06 758.46,96.9 764.03,95.04 769.37,92.72 775.18,90.39 780.52,88.07 786.33,86.45 792.14,84.59 797.25,82.96 803.05,81.1 808.4,79.48 814.2,78.32 819.31,77.62 825.12,78.08 826.27,78.36 832.02,78.79 836.62,78.79 842.37,79.08 847.55,80.81 853.59,83.39 858.62,86.27" fill="none" stroke="#22DD22" stroke-width="1.2" stroke-linejoin="round"/>
<polyline points="64.6,197.32 64.65,197.32 70.45,208.47 75.56,217.76 80.91,224.26 86.71,227.51 92.52,220.08 97.63,211.95 103.44,203.82 108.78,197.32 114.59,186.4 119.7,182.22 125.74,186.4 130.85,192.21 136.66,199.64 142.46,211.95 147.57,218.92 153.38,216.6 158.72,211.95 164.53,199.18 169.64,188.72 175.45,186.4 180.33,185.24 186.6,181.06 192.4,185.24 197.51,188.72 203.55,185.7 208.66,185.24 214.47,188.72 219.81,197.32 225.39,207.31 230.73,217.76 236.54,227.05 242.35,232.16 247.69,233.32 253.5,229.37 258.59,232.16 264.4,237.5 269.74,245.17 275.55,255.39 280.66,261.89 286.47,263.05 292.28,264.22 297.62,267.7 303.43,264.68 308.77,260.73 314.34,256.78 319.69,254.46 325.49,245.17 330.6,242.85 336.41,241.45 342.45,239.83 347.56,240.52 353.37,239.13 358.48,229.37 364.29,220.08 369.63,210.79 375.44,202.66 380.55,198.01 386.35,198.71 392.16,196.85 397.5,198.01 403.31,197.32 408.42,200.34 414.46,201.5 419.57,206.14 425.38,204.29 430.72,199.18 436.3,193.37 442.33,189.42 447.67,188.92 453.24,194.26 458.58,197.51 464.16,198.21 469.5,200.07 475.31,198.91 480.65,197.51 486.46,201.7 492.26,205.18 497.61,206.34 503.18,209.83 508.52,210.52 514.33,210.52 519.67,216.1 525.25,222.6 530.59,226.78 536.4,228.41 542.21,220.28 547.32,204.02 553.12,188.92 558.47,176.84 564.27,167.32 569.62,164.99 575.19,162.67 580.53,161.05 586.34,159.88 592.15,156.4 597.49,149.43 603.3,141.77 608.87,135.49 614.22,130.85 619.56,128.52 625.13,126.67 630.48,129.22 636.27,131.51 642.08,128.72 647.42,125.93 653.23,124.08 658.34,119.43 664.38,113.62 669.49,111.3 675.3,110.14 680.64,107.82 686.45,104.33 692.25,102.71 697.36,102.01 703.17,100.38 708.51,101.54 714.09,100.85 719.43,99.22 725.24,99.69 730.58,99.22 736.39,97.36 742.2,96.9 747.77,98.52 753.58,97.36 758.46,96.2 764.03,90.86 769.37,85.75 775.18,79.94 780.52,75.3 786.33,71.81 792.14,71.35 797.25,72.97 803.05,72.28 808.4,71.35 814.2,74.6 819.31,79.94 825.12,83.43 826.27,84.83 832.02,86.27 836.62,87.99 842.37,87.42 847.55,85.55 853.59,89.86 858.62,93.46" fill="none" stroke="#F03C3C" stroke-width="1.2" stroke-linejoin="round"/>
<rect x="62.6" y="383.6" width="4" height="11.3" fill="#008000"/>
<rect x="68.15" y="383.6" width="4" height="20.1" fill="#008000"/>
<rect x="73.7" y="383.6" width="4" height="20.1" fill="#008000"/>
<rect x="79.25" y="380.3" width="4" height="3.3" fill="#008000"/>
<rect x="84.8" y="380.3" width="4" height="3.3" fill="#008000"/>
<rect x="90.35" y="383.6" width="4" height="1.4" fill="#008000"/>
<rect x="95.9" y="383.6" width="4" height="2.3" fill="#008000"/>
<rect x="101.45" y="383.6" width="4" height="6.2" fill="#008000"/>
<rect x="107" y="383.6" width="4" height="14" fill="#008000"/>
<rect x="112.55" y="383.6" width="4" height="7.1" fill="#008000"/>
<rect x="118.1" y="383.6" width="4" height="17" fill="#008000"/>
<rect x="123.65" y="383.6" width="4" height="26.2" fill="#008000"/>
<rect x="129.2" y="383.6" width="4" height="27.4" fill="#008000"/>
<rect x="134.75" y="383.6" width="4" height="37.3" fill="#008000"/>
<rect x="140.3" y="383.6" width="4" height="34" fill="#008000"/>
<rect x="145.85" y="383.6" width="4" height="25.3" fill="#008000"/>
<rect x="151.4" y="383.6" width="4" height="26.2" fill="#008000"/>
<rect x="156.95" y="383.6" width="4" height="28.3" fill="#008000"/>
<rect x="162.5" y="383.6" width="4" height="19.1" fill="#008000"/>
<rect x="168.05" y="383.6" width="4" height="10" fill="#008000"/>
<rect x="173.6" y="383.6" width="4" height="10" fill="#008000"/>
<rect x="179.15" y="383.6" width="4" height="11.3" fill="#008000"/>
<rect x="184.7" y="383.6" width="4" height="14" fill="#008000"/>
<rect x="190.25" y="383.6" width="4" height="24.3" fill="#008000"/>
<rect x="195.8" y="383.6" width="4" height="38.2" fill="#008000"/>
<rect x="201.35" y="383.6" width="4" height="36.1" fill="#008000"/>
<rect x="206.9" y="383.6" width="4" height="38.2" fill="#008000"/>
<rect x="212.45" y="383.6" width="4" height="47" fill="#008000"/>
<rect x="218" y="383.6" width="4" height="52" fill="#008000"/>
<rect x="223.55" y="383.6" width="4" height="37.3" fill="#008000"/>
<rect x="229.1" y="383.6" width="4" height="34" fill="#008000"/>
<rect x="234.65" y="383.6" width="4" height="24.3" fill="#008000"/>
<rect x="240.2" y="383.6" width="4" height="9.2" fill="#008000"/>
<rect x="245.75" y="383.6" width="4" height="3.5" fill="#008000"/>
<rect x="251.3" y="375.1" width="4" height="8.5" fill="#008000"/>
<rect x="256.85" y="380.3" width="4" height="3.3" fill="#008000"/>
<rect x="262.4" y="383.6" width="4" height="3.5" fill="#008000"/>
<rect x="267.95" y="383.6" width="4" height="6.2" fill="#008000"/>
<rect x="273.5" y="383.6" width="4" height="10" fill="#008000"/>
<rect x="279.05" y="383.6" width="4" height="11.3" fill="#008000"/>
<rect x="284.6" y="383.6" width="4" height="4.3" fill="#008000"/>
<rect x="290.15" y="383.6" width="4" height="7.1" fill="#008000"/>
<rect x="295.7" y="383.6" width="4" height="10" fill="#008000"/>
<rect x="301.25" y="383.6" width="4" height="3.5" fill="#008000"/>
<rect x="306.8" y="376.3" width="4" height="7.3" fill="#008000"/>
<rect x="312.35" y="374.2" width="4" height="9.4" fill="#008000"/>
<rect x="317.9" y="373.2" width="4" height="10.4" fill="#008000"/>
<rect x="323.45" y="382.2" width="4" height="1.4" fill="#008000"/>
<rect x="329" y="382.2" width="4" height="1.4" fill="#008000"/>
<rect x="334.55" y="373.4" width="4" height="10.2" fill="#008000"/>
<rect x="340.1" y="380.5" width="4" height="3.1" fill="#008000"/>
<rect x="345.65" y="383.6" width="4" height="10.4" fill="#008000"/>
<rect x="351.2" y="383.6" width="4" height="12.5" fill="#008000"/>
<rect x="356.75" y="383.6" width="4" height="3.5" fill="#008000"/>
<rect x="362.3" y="383.6" width="4" height="16.5" fill="#008000"/>
<rect x="367.85" y="383.6" width="4" height="20.5" fill="#008000"/>
<rect x="373.4" y="383.6" width="4" height="19.4" fill="#008000"/>
<rect x="378.95" y="383.6" width="4" height="18.6" fill="#008000"/>
<rect x="384.5" y="383.6" width="4" height="18.6" fill="#008000"/>
<rect x="390.05" y="383.6" width="4" height="10.4" fill="#008000"/>
<rect x="395.6" y="383.6" width="4" height="17.4" fill="#008000"/>
<rect x="401.15" y="383.6" width="4" height="23.4" fill="#008000"/>
<rect x="406.7" y="383.6" width="4" height="26.5" fill="#008000"/>
<rect x="412.25" y="383.6" width="4" height="21.3" fill="#008000"/>
<rect x="417.8" y="383.6" width="4" height="37.7" fill="#008000"/>
<rect x="423.35" y="383.6" width="4" height="28.6" fill="#008000"/>
<rect x="428.9" y="383.6" width="4" height="16.5" fill="#008000"/>
<rect x="434.45" y="383.6" width="4" height="22.6" fill="#008000"/>
<rect x="440" y="383.6" width="4" height="24.6" fill="#008000"/>
<rect x="445.55" y="383.6" width="4" height="26.5" fill="#008000"/>
<rect x="451.1" y="383.6" width="4" height="30.7" fill="#008000"/>
<rect x="456.65" y="383.6" width="4" height="29.5" fill="#008000"/>
<rect x="462.2" y="383.6" width="4" height="24.6" fill="#008000"/>
<rect x="467.75" y="383.6" width="4" height="28.6" fill="#008000"/>
<rect x="473.3" y="383.6" width="4" height="45.6" fill="#008000"/>
<rect x="478.85" y="383.6" width="4" height="32.6" fill="#008000"/>
<rect x="484.4" y="383.6" width="4" height="40.4" fill="#008000"/>
<rect x="489.95" y="383.6" width="4" height="35.6" fill="#008000"/>
<rect x="495.5" y="383.6" width="4" height="32.6" fill="#008000"/>
<rect x="501.05" y="383.6" width="4" height="32.6" fill="#008000"/>
<rect x="506.6" y="383.6" width="4" height="32.6" fill="#008000"/>
<rect x="512.15" y="383.6" width="4" height="32.6" fill="#008000"/>
<rect x="517.7" y="383.6" width="4" height="40.4" fill="#008000"/>
<rect x="523.25" y="383.6" width="4" height="34.7" fill="#008000"/>
<rect x="528.8" y="383.6" width="4" height="23.4" fill="#008000"/>
<rect x="534.35" y="383.6" width="4" height="9.5" fill="#008000"/>
<rect x="539.9" y="383.6" width="4" height="16.5" fill="#008000"/>
<rect x="545.45" y="383.6" width="4" height="28.6" fill="#008000"/>
<rect x="551" y="383.6" width="4" height="28.6" fill="#008000"/>
<rect x="556.55" y="383.6" width="4" height="18.6" fill="#008000"/>
<rect x="562.1" y="383.6" width="4" height="9.5" fill="#008000"/>
<rect x="567.65" y="383.6" width="4" height="10.4" fill="#008000"/>
<rect x="573.2" y="383.6" width="4" height="9.5" fill="#008000"/>
<rect x="578.75" y="383.6" width="4" height="20.5" fill="#008000"/>
<rect x="584.3" y="383.6" width="4" height="8.3" fill="#008000"/>
<rect x="595.4" y="383.6" width="4" height="7.6" fill="#008000"/>
<rect x="600.95" y="383.6" width="4" height="2.5" fill="#008000"/>
<rect x="606.5" y="378.2" width="4" height="5.4" fill="#008000"/>
<rect x="612.05" y="380.4" width="4" height="3.2" fill="#008000"/>
<rect x="617.6" y="377.3" width="4" height="6.3" fill="#008000"/>
<rect x="623.15" y="376.2" width="4" height="7.4" fill="#008000"/>
<rect x="628.7" y="382.2" width="4" height="1.4" fill="#008000"/>
<rect x="634.25" y="367.2" width="4" height="16.4" fill="#008000"/>
<rect x="639.8" y="364.2" width="4" height="19.4" fill="#008000"/>
<rect x="645.35" y="373.2" width="4" height="10.4" fill="#008000"/>
<rect x="650.9" y="374.1" width="4" height="9.5" fill="#008000"/>
<rect x="656.45" y="378.2" width="4" height="5.4" fill="#008000"/>
<rect x="662" y="378.2" width="4" height="5.4" fill="#008000"/>
<rect x="667.55" y="376.2" width="4" height="7.4" fill="#008000"/>
<rect x="673.1" y="383.6" width="4" height="2.7" fill="#008000"/>
<rect x="678.65" y="380.4" width="4" height="3.2" fill="#008000"/>
<rect x="684.2" y="368.1" width="4" height="15.5" fill="#008000"/>
<rect x="689.75" y="374.1" width="4" height="9.5" fill="#008000"/>
<rect x="695.3" y="363.3" width="4" height="20.3" fill="#008000"/>
<rect x="700.85" y="375.3" width="4" height="8.3" fill="#008000"/>
<rect x="706.4" y="383.6" width="4" height="3.6" fill="#008000"/>
<rect x="711.95" y="377.3" width="4" height="6.3" fill="#008000"/>
<rect x="717.5" y="380.4" width="4" height="3.2" fill="#008000"/>
<rect x="723.05" y="383.6" width="4" height="4.5" fill="#008000"/>
<rect x="728.6" y="383.6" width="4" height="1.3" fill="#008000"/>
<rect x="734.15" y="377.3" width="4" height="6.3" fill="#008000"/>
<rect x="739.7" y="376.2" width="4" height="7.4" fill="#008000"/>
<rect x="745.25" y="371.4" width="4" height="12.2" fill="#008000"/>
<rect x="750.8" y="380.4" width="4" height="3.2" fill="#008000"/>
<rect x="756.35" y="378.2" width="4" height="5.4" fill="#008000"/>
<rect x="761.9" y="380.4" width="4" height="3.2" fill="#008000"/>
<rect x="767.45" y="378.2" width="4" height="5.4" fill="#008000"/>
<rect x="773" y="382.2" width="4" height="1.4" fill="#008000"/>
<rect x="778.55" y="383.6" width="4" height="8.5" fill="#008000"/>
<rect x="784.1" y="383.6" width="4" height="21.6" fill="#008000"/>
<rect x="789.65" y="383.6" width="4" height="21.6" fill="#008000"/>
<rect x="795.2" y="383.6" width="4" height="33.7" fill="#008000"/>
<rect x="800.75" y="383.6" width="4" height="35.5" fill="#008000"/>
<rect x="806.3" y="383.6" width="4" height="29.7" fill="#008000"/>
<rect x="811.85" y="383.6" width="4" height="33.7" fill="#008000"/>
<rect x="817.4" y="383.6" width="4" height="41.4" fill="#008000"/>
<rect x="822.95" y="383.6" width="4" height="32.4" fill="#008000"/>
<rect x="828.5" y="383.6" width="4" height="22.5" fill="#008000"/>
<rect x="834.05" y="383.6" width="4" height="15.3" fill="#008000"/>
<rect x="839.6" y="383.6" width="4" height="7.6" fill="#008000"/>
<rect x="845.15" y="383.6" width="4" height="15.3" fill="#008000"/>
<rect x="850.7" y="383.6" width="4" height="14.4" fill="#008000"/>
<rect x="856.25" y="383.6" width="4" height="17.5" fill="#008000"/>
<rect x="63" y="13" width="797" height="11.5" fill="rgba(204,204,255,0.5)"/>
<rect x="63" y="333.5" width="797" height="13" fill="rgba(204,204,255,0.5)"/>
<rect x="62" y="11" width="799.5" height="2" fill="#000"/>
<rect x="62" y="331.6" width="799.5" height="2" fill="#000"/>
<rect x="62" y="439" width="800" height="1.2" fill="#000"/>
<rect x="61" y="0" width="1.5" height="440.2" fill="#000"/>
<rect x="860.8" y="0" width="1.5" height="440.2" fill="#000"/>
<line x1="64.6" y1="440" x2="64.6" y2="442.5" stroke="#000" stroke-width="1"/>
<line x1="180.3" y1="440" x2="180.3" y2="442.5" stroke="#000" stroke-width="1"/>
<line x1="303.4" y1="440" x2="303.4" y2="442.5" stroke="#000" stroke-width="1"/>
<line x1="414.5" y1="440" x2="414.5" y2="442.5" stroke="#000" stroke-width="1"/>
<line x1="525.3" y1="440" x2="525.3" y2="442.5" stroke="#000" stroke-width="1"/>
<line x1="636.6" y1="440" x2="636.6" y2="442.5" stroke="#000" stroke-width="1"/>
<line x1="753.5" y1="440" x2="753.5" y2="442.5" stroke="#000" stroke-width="1"/>
<line x1="858.2" y1="440" x2="858.2" y2="442.5" stroke="#000" stroke-width="1"/>
<line x1="857" y1="332" x2="861" y2="332" stroke="#000" stroke-width="1"/>
<text x="865.5" y="336" font-family="'Liberation Sans', sans-serif" font-size="11" font-weight="normal" fill="#000" text-anchor="start" textLength="28.5" lengthAdjust="spacingAndGlyphs">8400</text>
<line x1="857" y1="307.54" x2="861" y2="307.54" stroke="#000" stroke-width="1"/>
<text x="865.5" y="311.54" font-family="'Liberation Sans', sans-serif" font-size="11" font-weight="normal" fill="#000" text-anchor="start" textLength="28.5" lengthAdjust="spacingAndGlyphs">8600</text>
<line x1="857" y1="283.08" x2="861" y2="283.08" stroke="#000" stroke-width="1"/>
<text x="865.5" y="287.08" font-family="'Liberation Sans', sans-serif" font-size="11" font-weight="normal" fill="#000" text-anchor="start" textLength="28.5" lengthAdjust="spacingAndGlyphs">8800</text>
<line x1="857" y1="258.63" x2="861" y2="258.63" stroke="#000" stroke-width="1"/>
<text x="865.5" y="262.63" font-family="'Liberation Sans', sans-serif" font-size="11" font-weight="normal" fill="#000" text-anchor="start" textLength="28.5" lengthAdjust="spacingAndGlyphs">9000</text>
<line x1="857" y1="234.17" x2="861" y2="234.17" stroke="#000" stroke-width="1"/>
<text x="865.5" y="238.17" font-family="'Liberation Sans', sans-serif" font-size="11" font-weight="normal" fill="#000" text-anchor="start" textLength="28.5" lengthAdjust="spacingAndGlyphs">9200</text>
<line x1="857" y1="209.71" x2="861" y2="209.71" stroke="#000" stroke-width="1"/>
<text x="865.5" y="213.71" font-family="'Liberation Sans', sans-serif" font-size="11" font-weight="normal" fill="#000" text-anchor="start" textLength="28.5" lengthAdjust="spacingAndGlyphs">9400</text>
<line x1="857" y1="185.25" x2="861" y2="185.25" stroke="#000" stroke-width="1"/>
<text x="865.5" y="189.25" font-family="'Liberation Sans', sans-serif" font-size="11" font-weight="normal" fill="#000" text-anchor="start" textLength="28.5" lengthAdjust="spacingAndGlyphs">9600</text>
<line x1="857" y1="160.79" x2="861" y2="160.79" stroke="#000" stroke-width="1"/>
<text x="865.5" y="164.79" font-family="'Liberation Sans', sans-serif" font-size="11" font-weight="normal" fill="#000" text-anchor="start" textLength="28.5" lengthAdjust="spacingAndGlyphs">9800</text>
<line x1="857" y1="136.34" x2="861" y2="136.34" stroke="#000" stroke-width="1"/>
<text x="865.5" y="140.34" font-family="'Liberation Sans', sans-serif" font-size="11" font-weight="normal" fill="#000" text-anchor="start" textLength="28.5" lengthAdjust="spacingAndGlyphs">10000</text>
<line x1="857" y1="111.88" x2="861" y2="111.88" stroke="#000" stroke-width="1"/>
<text x="865.5" y="115.88" font-family="'Liberation Sans', sans-serif" font-size="11" font-weight="normal" fill="#000" text-anchor="start" textLength="28.5" lengthAdjust="spacingAndGlyphs">10200</text>
<line x1="857" y1="87.42" x2="861" y2="87.42" stroke="#000" stroke-width="1"/>
<text x="865.5" y="91.42" font-family="'Liberation Sans', sans-serif" font-size="11" font-weight="normal" fill="#000" text-anchor="start" textLength="28.5" lengthAdjust="spacingAndGlyphs">10400</text>
<line x1="857" y1="62.96" x2="861" y2="62.96" stroke="#000" stroke-width="1"/>
<text x="865.5" y="66.96" font-family="'Liberation Sans', sans-serif" font-size="11" font-weight="normal" fill="#000" text-anchor="start" textLength="28.5" lengthAdjust="spacingAndGlyphs">10600</text>
<line x1="857" y1="38.5" x2="861" y2="38.5" stroke="#000" stroke-width="1"/>
<text x="865.5" y="42.5" font-family="'Liberation Sans', sans-serif" font-size="11" font-weight="normal" fill="#000" text-anchor="start" textLength="28.5" lengthAdjust="spacingAndGlyphs">10800</text>
<line x1="857" y1="12" x2="861" y2="12" stroke="#000" stroke-width="1"/>
<text x="865.5" y="16" font-family="'Liberation Sans', sans-serif" font-size="11" font-weight="normal" fill="#000" text-anchor="start" textLength="5.7" lengthAdjust="spacingAndGlyphs">0</text>
<line x1="857" y1="346.7" x2="861" y2="346.7" stroke="#000" stroke-width="1"/>
<text x="865" y="350.7" font-family="'Liberation Sans', sans-serif" font-size="11" font-weight="normal" fill="#000" text-anchor="start" textLength="14.2" lengthAdjust="spacingAndGlyphs">0.2</text>
<line x1="857" y1="365.15" x2="861" y2="365.15" stroke="#000" stroke-width="1"/>
<text x="865" y="369.15" font-family="'Liberation Sans', sans-serif" font-size="11" font-weight="normal" fill="#000" text-anchor="start" textLength="14.2" lengthAdjust="spacingAndGlyphs">0.1</text>
<line x1="857" y1="383.6" x2="861" y2="383.6" stroke="#000" stroke-width="1"/>
<text x="865" y="387.6" font-family="'Liberation Sans', sans-serif" font-size="11" font-weight="normal" fill="#000" text-anchor="start" textLength="5.7" lengthAdjust="spacingAndGlyphs">0</text>
<line x1="857" y1="402.05" x2="861" y2="402.05" stroke="#000" stroke-width="1"/>
<text x="866" y="406.05" font-family="'Liberation Sans', sans-serif" font-size="11" font-weight="normal" fill="#000" text-anchor="start" textLength="18.6" lengthAdjust="spacingAndGlyphs">−0.1</text>
<line x1="857" y1="420.5" x2="861" y2="420.5" stroke="#000" stroke-width="1"/>
<text x="866" y="424.5" font-family="'Liberation Sans', sans-serif" font-size="11" font-weight="normal" fill="#000" text-anchor="start" textLength="18.6" lengthAdjust="spacingAndGlyphs">−0.2</text>
<line x1="857" y1="438.95" x2="861" y2="438.95" stroke="#000" stroke-width="1"/>
<text x="866" y="442.95" font-family="'Liberation Sans', sans-serif" font-size="11" font-weight="normal" fill="#000" text-anchor="start" textLength="18.6" lengthAdjust="spacingAndGlyphs">−0.3</text>
<text x="58.5" y="337.2" font-family="'Liberation Sans', sans-serif" font-size="11" font-weight="normal" fill="#000" text-anchor="end" textLength="12.5" lengthAdjust="spacingAndGlyphs">0K</text>
<line x1="62" y1="301" x2="66" y2="301" stroke="#000" stroke-width="1"/>
<text x="58.5" y="305.8" font-family="'Liberation Sans', sans-serif" font-size="11" font-weight="normal" fill="#000" text-anchor="end" textLength="18.5" lengthAdjust="spacingAndGlyphs">50K</text>
<line x1="62" y1="269.6" x2="66" y2="269.6" stroke="#000" stroke-width="1"/>
<text x="58.5" y="274.4" font-family="'Liberation Sans', sans-serif" font-size="11" font-weight="normal" fill="#000" text-anchor="end" textLength="24.5" lengthAdjust="spacingAndGlyphs">100K</text>
<line x1="62" y1="238.2" x2="66" y2="238.2" stroke="#000" stroke-width="1"/>
<text x="58.5" y="243" font-family="'Liberation Sans', sans-serif" font-size="11" font-weight="normal" fill="#000" text-anchor="end" textLength="24.5" lengthAdjust="spacingAndGlyphs">150K</text>
<rect x="66.7" y="16.5" width="6.5" height="6.5" fill="#FF3333" stroke="#000" stroke-width="1"/>
<text x="78.7" y="23.5" font-family="'Liberation Sans', sans-serif" font-size="11" font-weight="normal" fill="#000" text-anchor="start" textLength="84.3" lengthAdjust="spacingAndGlyphs">SMA (5): 1.035E4</text>
<rect x="188.3" y="16.5" width="6.5" height="6.5" fill="#33FF33" stroke="#000" stroke-width="1"/>
<text x="200.3" y="23.5" font-family="'Liberation Sans', sans-serif" font-size="11" font-weight="normal" fill="#000" text-anchor="start" textLength="90.3" lengthAdjust="spacingAndGlyphs">SMA (13): 1.041E4</text>
<rect x="316.6" y="16.5" width="6.5" height="6.5" fill="#3333FF" stroke="#000" stroke-width="1"/>
<text x="328.6" y="23.5" font-family="'Liberation Sans', sans-serif" font-size="11" font-weight="normal" fill="#000" text-anchor="start" textLength="90.5" lengthAdjust="spacingAndGlyphs">SMA (26): 1.041E4</text>
<rect x="444.6" y="16.5" width="6.5" height="6.5" fill="#99FF66" stroke="#000" stroke-width="1"/>
<text x="456.6" y="23.5" font-family="'Liberation Sans', sans-serif" font-size="11" font-weight="normal" fill="#000" text-anchor="start" textLength="172.5" lengthAdjust="spacingAndGlyphs">Bollinger (20, 2): 1.024E4 − 1.064E4</text>
<rect x="654.4" y="16.5" width="6.5" height="6.5" fill="#99FF66" stroke="#000" stroke-width="1"/>
<text x="666.4" y="23.5" font-family="'Liberation Sans', sans-serif" font-size="11" font-weight="normal" fill="#000" text-anchor="start" textLength="53.5" lengthAdjust="spacingAndGlyphs">Vol: 45.61K</text>
<rect x="66.7" y="337" width="6.5" height="6.5" fill="#008000" stroke="#000" stroke-width="1"/>
<text x="78.7" y="344" font-family="'Liberation Sans', sans-serif" font-size="11" font-weight="normal" fill="#000" text-anchor="start" textLength="160.5" lengthAdjust="spacingAndGlyphs">Chaikin Money Flow (21): −0.0928</text>
<text x="229.5" y="460.8" font-family="'Liberation Serif', 'Noto Serif CJK SC', 'Noto Sans CJK JP', serif" font-size="16" font-weight="bold" fill="#000" text-anchor="start" textLength="65" lengthAdjust="spacingAndGlyphs">日経平均</text>
<rect x="863" y="441.8" width="70" height="10" fill="#fff"/>
<g stroke="#ED1C24" stroke-width="4.6" stroke-linecap="round" stroke-linejoin="round" fill="none">
<path d="M856.5,126.5 L892.5,66.5 M875,77.5 L892.8,66.2 L893,83.5"/>
<path d="M843.3,401 L881.5,434 M879.6,414.5 L881.8,434.2 L865,434.3"/>
</g>
<text x="965.3" y="12.8" font-family="'Liberation Sans', sans-serif" font-size="11.5" font-weight="bold" fill="#000" text-anchor="start" textLength="25.2" lengthAdjust="spacingAndGlyphs">DMI</text>
<rect x="960.7" y="16.5" width="293.7" height="136.9" fill="#fff" stroke="#A8A8A8" stroke-width="1.2"/>
<rect x="960.7" y="153.4" width="293.7" height="151.6" fill="#fff" stroke="#A8A8A8" stroke-width="1.2"/>
<line x1="957.8" y1="147" x2="957.8" y2="305" stroke="#C8C8C8" stroke-width="1"/>
<line x1="992.6" y1="100.65" x2="1240.6" y2="100.65" stroke="#8C8C8C" stroke-width="1"/>
<line x1="992.6" y1="76.9" x2="1240.6" y2="76.9" stroke="#8C8C8C" stroke-width="1"/>
<line x1="992.6" y1="53.15" x2="1240.6" y2="53.15" stroke="#8C8C8C" stroke-width="1"/>
<line x1="992.6" y1="29.4" x2="1240.6" y2="29.4" stroke="#606060" stroke-width="1.3"/>
<line x1="1240.6" y1="29.4" x2="1240.6" y2="124.4" stroke="#707070" stroke-width="1.2"/>
<polyline points="1005.12,83.29 1009.64,76.5 1014.16,76.71 1017.87,68.89 1021.98,63.34 1025.68,66.22 1029.59,61.7 1033.7,55.53 1037.4,58.61 1041.52,61.29 1045.63,69.92 1049.33,73.62 1053.44,78.15 1057.35,81.23 1061.05,83.91 1065.17,81.85 1069.28,84.73 1073.39,88.43 1077.1,76.5 1081,83.29 1085.12,87.4 1088.82,88.43 1092.93,79.79 1097.04,81.85 1101.16,84.73 1105.27,84.73 1108.77,77.74 1112.47,74.04 1115.55,86.38 1120.69,96.66 1126.86,98.71 1132.62,102.21 1136.12,104.88 1139.2,91.52 1143.32,89.46 1147.43,91.52 1151.13,96.66 1155.04,91.11 1159.15,91.52 1163.47,79.79 1167.38,82.26 1171.08,84.73 1175.19,80.82 1179.31,85.96 1183.42,87.4 1187.53,89.87 1191.23,88.02 1195.14,90.08 1199.25,93.57 1202.96,107.97 1207.07,111.47 1210.77,98.71 1214.68,102.21 1218.38,100.77 1222.49,102.21 1226.61,104.27 1230.72,100.77" fill="none" stroke="#0A800A" stroke-width="1.1"/>
<polyline points="993.19,83.29 998.33,80.62" fill="none" stroke="#000080" stroke-width="1.2"/>
<polyline points="1132.62,100.77 1136.12,94.19 1139.61,101.18 1143.73,99.74 1147.84,100.77 1151.54,92.54 1155.24,96.25 1159.36,97.07 1163.47,110.03 1167.38,108.38 1171.49,105.3 1175.19,112.08 1179.31,112.08 1183.42,103.86 1187.12,102.42 1191.23,107.56 1195.14,104.88 1199.25,93.57 1202.96,76.09 1207.07,77.12 1210.77,82.67 1214.68,82.88 1218.38,81.85 1222.49,84.32 1226.61,74.04 1230.72,76.09" fill="none" stroke="#000080" stroke-width="1.2"/>
<circle cx="993.19" cy="83.29" r="1.7" fill="#000080"/>
<circle cx="998.33" cy="80.62" r="1.7" fill="#000080"/>
<circle cx="1132.62" cy="100.77" r="1.7" fill="#000080"/>
<circle cx="1136.12" cy="94.19" r="1.7" fill="#000080"/>
<circle cx="1139.61" cy="101.18" r="1.7" fill="#000080"/>
<circle cx="1143.73" cy="99.74" r="1.7" fill="#000080"/>
<circle cx="1147.84" cy="100.77" r="1.7" fill="#000080"/>
<circle cx="1151.54" cy="92.54" r="1.7" fill="#000080"/>
<circle cx="1155.24" cy="96.25" r="1.7" fill="#000080"/>
<circle cx="1159.36" cy="97.07" r="1.7" fill="#000080"/>
<circle cx="1163.47" cy="110.03" r="1.7" fill="#000080"/>
<circle cx="1167.38" cy="108.38" r="1.7" fill="#000080"/>
<circle cx="1171.49" cy="105.3" r="1.7" fill="#000080"/>
<circle cx="1175.19" cy="112.08" r="1.7" fill="#000080"/>
<circle cx="1179.31" cy="112.08" r="1.7" fill="#000080"/>
<circle cx="1183.42" cy="103.86" r="1.7" fill="#000080"/>
<circle cx="1187.12" cy="102.42" r="1.7" fill="#000080"/>
<circle cx="1191.23" cy="107.56" r="1.7" fill="#000080"/>
<circle cx="1195.14" cy="104.88" r="1.7" fill="#000080"/>
<circle cx="1199.25" cy="93.57" r="1.7" fill="#000080"/>
<circle cx="1202.96" cy="76.09" r="1.7" fill="#000080"/>
<circle cx="1207.07" cy="77.12" r="1.7" fill="#000080"/>
<circle cx="1210.77" cy="82.67" r="1.7" fill="#000080"/>
<circle cx="1214.68" cy="82.88" r="1.7" fill="#000080"/>
<circle cx="1218.38" cy="81.85" r="1.7" fill="#000080"/>
<circle cx="1222.49" cy="84.32" r="1.7" fill="#000080"/>
<circle cx="1226.61" cy="74.04" r="1.7" fill="#000080"/>
<circle cx="1230.72" cy="76.09" r="1.7" fill="#000080"/>
<line x1="992.6" y1="29.4" x2="992.6" y2="124.4" stroke="#000" stroke-width="1.6"/>
<line x1="991.8" y1="124.4" x2="1240.6" y2="124.4" stroke="#000" stroke-width="1.6"/>
<text x="967" y="128.7" font-family="'Liberation Sans', sans-serif" font-size="10.5" font-weight="normal" fill="#111" text-anchor="start" textLength="15" lengthAdjust="spacingAndGlyphs">0.0</text>
<text x="967" y="104.95" font-family="'Liberation Sans', sans-serif" font-size="10.5" font-weight="normal" fill="#111" text-anchor="start" textLength="15" lengthAdjust="spacingAndGlyphs">0.2</text>
<text x="967" y="81.2" font-family="'Liberation Sans', sans-serif" font-size="10.5" font-weight="normal" fill="#111" text-anchor="start" textLength="15" lengthAdjust="spacingAndGlyphs">0.4</text>
<text x="967" y="57.45" font-family="'Liberation Sans', sans-serif" font-size="10.5" font-weight="normal" fill="#111" text-anchor="start" textLength="15" lengthAdjust="spacingAndGlyphs">0.6</text>
<text x="967" y="33.7" font-family="'Liberation Sans', sans-serif" font-size="10.5" font-weight="normal" fill="#111" text-anchor="start" textLength="15" lengthAdjust="spacingAndGlyphs">0.8</text>
<text x="982.9" y="147.8" font-family="'Liberation Sans', sans-serif" font-size="10.5" font-weight="normal" fill="#111" text-anchor="start" textLength="22.6" lengthAdjust="spacingAndGlyphs">11/1</text>
<text x="1061.7" y="147.8" font-family="'Liberation Sans', sans-serif" font-size="10.5" font-weight="normal" fill="#111" text-anchor="start" textLength="22.4" lengthAdjust="spacingAndGlyphs">12/1</text>
<text x="1137.6" y="147.8" font-family="'Liberation Sans', sans-serif" font-size="10.5" font-weight="normal" fill="#111" text-anchor="start" textLength="28.7" lengthAdjust="spacingAndGlyphs">12/30</text>
<text x="1221.5" y="147.8" font-family="'Liberation Sans', sans-serif" font-size="10.5" font-weight="normal" fill="#111" text-anchor="start" textLength="16.4" lengthAdjust="spacingAndGlyphs">2/1</text>
<rect x="993.6" y="85.1" width="139.4" height="42.4" fill="#fff" stroke="#C0C0C0" stroke-width="1.4"/>
<line x1="1001.4" y1="95.6" x2="1023.6" y2="95.6" stroke="#0A800A" stroke-width="1.2"/>
<line x1="1001.4" y1="116.8" x2="1023.6" y2="116.8" stroke="#000080" stroke-width="1.2"/>
<circle cx="1012.5" cy="116.8" r="1.7" fill="#000080"/>
<text x="1027.4" y="101.8" font-family="'Liberation Sans', 'Noto Sans CJK JP', sans-serif" font-size="10.5" font-weight="normal" fill="#111" text-anchor="start">＋</text>
<text x="1057.6" y="101.8" font-family="'Liberation Sans', 'Noto Sans CJK JP', sans-serif" font-size="10.5" font-weight="normal" fill="#111" text-anchor="start" textLength="63.2" lengthAdjust="spacingAndGlyphs">上昇トレンド</text>
<text x="1039.5" y="101.5" font-family="'Liberation Sans', sans-serif" font-size="11" font-weight="normal" fill="#111" text-anchor="start" textLength="11.3" lengthAdjust="spacingAndGlyphs">DI</text>
<text x="1052.3" y="101.3" font-family="'Liberation Sans', sans-serif" font-size="11" font-weight="normal" fill="#111" text-anchor="start">(</text>
<text x="1121.6" y="101.3" font-family="'Liberation Sans', sans-serif" font-size="11" font-weight="normal" fill="#111" text-anchor="start">)</text>
<text x="1027.4" y="123" font-family="'Liberation Sans', 'Noto Sans CJK JP', sans-serif" font-size="10.5" font-weight="normal" fill="#111" text-anchor="start">－</text>
<text x="1057.6" y="123" font-family="'Liberation Sans', 'Noto Sans CJK JP', sans-serif" font-size="10.5" font-weight="normal" fill="#111" text-anchor="start" textLength="63.2" lengthAdjust="spacingAndGlyphs">下降トレンド</text>
<text x="1039.5" y="122.7" font-family="'Liberation Sans', sans-serif" font-size="11" font-weight="normal" fill="#111" text-anchor="start" textLength="11.3" lengthAdjust="spacingAndGlyphs">DI</text>
<text x="1052.3" y="122.5" font-family="'Liberation Sans', sans-serif" font-size="11" font-weight="normal" fill="#111" text-anchor="start">(</text>
<text x="1121.6" y="122.5" font-family="'Liberation Sans', sans-serif" font-size="11" font-weight="normal" fill="#111" text-anchor="start">)</text>
<line x1="995.2" y1="254.62" x2="1222.9" y2="254.62" stroke="#909090" stroke-width="1.1"/>
<line x1="995.2" y1="236.74" x2="1222.9" y2="236.74" stroke="#909090" stroke-width="1.1"/>
<line x1="995.2" y1="218.86" x2="1222.9" y2="218.86" stroke="#909090" stroke-width="1.1"/>
<line x1="995.2" y1="200.98" x2="1222.9" y2="200.98" stroke="#909090" stroke-width="1.1"/>
<line x1="995.2" y1="183.1" x2="1222.9" y2="183.1" stroke="#909090" stroke-width="1.1"/>
<line x1="995.2" y1="165.2" x2="1222.9" y2="165.2" stroke="#505050" stroke-width="1.3"/>
<line x1="1222.9" y1="165.2" x2="1222.9" y2="272.5" stroke="#000" stroke-width="1.4"/>
<polyline points="997.3,214.92 1000.8,202.58 1004.5,204.64 1008.2,206.08 1012.11,207.31 1015.4,208.14 1018.89,200.53 1022.6,194.36 1026.09,197.44 1029.79,198.88 1033.29,199.5 1036.99,201.56 1040.69,191.27 1044.19,187.16 1047.89,185.51 1051.39,186.13 1054.88,192.3 1058.38,196.41 1062.08,197.44 1065.58,205.67 1069.28,215.95 1072.98,221.09 1076.48,226.23 1080.18,235.49 1083.68,243.71 1089.85,247.83 1096.02,241.66 1101.16,231.38 1105.27,218.62 1108.77,218.42 1112.47,218.42 1116.17,218.42 1119.67,215.54 1123.37,222.74 1126.86,225.21 1130.57,227.26 1134.06,228.29 1137.56,235.49 1141.26,243.3 1144.76,247.83 1148.46,250.5 1151.95,242.69 1155.66,237.54 1159.36,232.4 1162.85,226.23 1166.35,220.06 1170.05,218.01 1173.55,216.57 1177.25,211.84 1180.75,208.34 1184.45,209.78 1187.94,209.78 1191.65,207.72 1195.14,209.78 1198.84,213.89 1202.54,218.62 1206.04,216.98 1209.54,214.51 1213.24,214.92" fill="none" stroke="#0A800A" stroke-width="1.2"/>
<polyline points="996.89,201.56 1000.8,206.08 1004.5,207.72 1008.2,191.89 1012.11,192.3 1015.4,191.27 1018.89,186.75 1022.6,191.27 1026.09,184.49 1029.79,193.95 1033.29,193.33 1036.99,186.13 1040.69,184.49 1044.19,200.12 1047.89,197.44 1051.39,184.49 1054.88,191.27 1058.38,189.22 1062.08,191.27 1065.58,183.05 1069.28,188.19 1072.98,182.02 1076.48,192.3 1080.18,200.53 1083.68,205.26 1087.17,213.48 1090.87,216.57 1094.58,211.84 1098.07,213.89 1101.77,225.21 1105.27,227.26 1108.77,235.49 1112.47,237.13 1116.17,232.4 1119.67,231.38 1123.37,236.52 1127.28,237.54 1130.57,241.66 1134.06,245.15 1137.56,243.71 1141.26,235.49 1144.76,222.74 1148.46,221.09 1151.95,218.01 1155.66,225.62 1159.36,224.59 1162.85,223.15 1166.35,223.77 1170.05,221.09 1173.55,220.06 1177.25,225.62 1180.75,238.16 1184.45,229.73 1187.94,223.77 1191.65,222.12 1195.14,216.36 1198.84,216.36 1202.54,218.42 1206.04,212.87 1209.54,203.61 1213.24,206.7" fill="none" stroke="#000080" stroke-width="1.2"/>
<circle cx="996.89" cy="201.56" r="1.7" fill="#000080"/>
<circle cx="1000.8" cy="206.08" r="1.7" fill="#000080"/>
<circle cx="1004.5" cy="207.72" r="1.7" fill="#000080"/>
<circle cx="1008.2" cy="191.89" r="1.7" fill="#000080"/>
<circle cx="1012.11" cy="192.3" r="1.7" fill="#000080"/>
<circle cx="1015.4" cy="191.27" r="1.7" fill="#000080"/>
<circle cx="1018.89" cy="186.75" r="1.7" fill="#000080"/>
<circle cx="1022.6" cy="191.27" r="1.7" fill="#000080"/>
<circle cx="1026.09" cy="184.49" r="1.7" fill="#000080"/>
<circle cx="1029.79" cy="193.95" r="1.7" fill="#000080"/>
<circle cx="1033.29" cy="193.33" r="1.7" fill="#000080"/>
<circle cx="1036.99" cy="186.13" r="1.7" fill="#000080"/>
<circle cx="1040.69" cy="184.49" r="1.7" fill="#000080"/>
<circle cx="1044.19" cy="200.12" r="1.7" fill="#000080"/>
<circle cx="1047.89" cy="197.44" r="1.7" fill="#000080"/>
<circle cx="1051.39" cy="184.49" r="1.7" fill="#000080"/>
<circle cx="1054.88" cy="191.27" r="1.7" fill="#000080"/>
<circle cx="1058.38" cy="189.22" r="1.7" fill="#000080"/>
<circle cx="1062.08" cy="191.27" r="1.7" fill="#000080"/>
<circle cx="1065.58" cy="183.05" r="1.7" fill="#000080"/>
<circle cx="1069.28" cy="188.19" r="1.7" fill="#000080"/>
<circle cx="1072.98" cy="182.02" r="1.7" fill="#000080"/>
<circle cx="1076.48" cy="192.3" r="1.7" fill="#000080"/>
<circle cx="1080.18" cy="200.53" r="1.7" fill="#000080"/>
<circle cx="1083.68" cy="205.26" r="1.7" fill="#000080"/>
<circle cx="1087.17" cy="213.48" r="1.7" fill="#000080"/>
<circle cx="1090.87" cy="216.57" r="1.7" fill="#000080"/>
<circle cx="1094.58" cy="211.84" r="1.7" fill="#000080"/>
<circle cx="1098.07" cy="213.89" r="1.7" fill="#000080"/>
<circle cx="1101.77" cy="225.21" r="1.7" fill="#000080"/>
<circle cx="1105.27" cy="227.26" r="1.7" fill="#000080"/>
<circle cx="1108.77" cy="235.49" r="1.7" fill="#000080"/>
<circle cx="1112.47" cy="237.13" r="1.7" fill="#000080"/>
<circle cx="1116.17" cy="232.4" r="1.7" fill="#000080"/>
<circle cx="1119.67" cy="231.38" r="1.7" fill="#000080"/>
<circle cx="1123.37" cy="236.52" r="1.7" fill="#000080"/>
<circle cx="1127.28" cy="237.54" r="1.7" fill="#000080"/>
<circle cx="1130.57" cy="241.66" r="1.7" fill="#000080"/>
<circle cx="1134.06" cy="245.15" r="1.7" fill="#000080"/>
<circle cx="1137.56" cy="243.71" r="1.7" fill="#000080"/>
<circle cx="1141.26" cy="235.49" r="1.7" fill="#000080"/>
<circle cx="1144.76" cy="222.74" r="1.7" fill="#000080"/>
<circle cx="1148.46" cy="221.09" r="1.7" fill="#000080"/>
<circle cx="1151.95" cy="218.01" r="1.7" fill="#000080"/>
<circle cx="1155.66" cy="225.62" r="1.7" fill="#000080"/>
<circle cx="1159.36" cy="224.59" r="1.7" fill="#000080"/>
<circle cx="1162.85" cy="223.15" r="1.7" fill="#000080"/>
<circle cx="1166.35" cy="223.77" r="1.7" fill="#000080"/>
<circle cx="1170.05" cy="221.09" r="1.7" fill="#000080"/>
<circle cx="1173.55" cy="220.06" r="1.7" fill="#000080"/>
<circle cx="1177.25" cy="225.62" r="1.7" fill="#000080"/>
<circle cx="1180.75" cy="238.16" r="1.7" fill="#000080"/>
<circle cx="1184.45" cy="229.73" r="1.7" fill="#000080"/>
<circle cx="1187.94" cy="223.77" r="1.7" fill="#000080"/>
<circle cx="1191.65" cy="222.12" r="1.7" fill="#000080"/>
<circle cx="1195.14" cy="216.36" r="1.7" fill="#000080"/>
<circle cx="1198.84" cy="216.36" r="1.7" fill="#000080"/>
<circle cx="1202.54" cy="218.42" r="1.7" fill="#000080"/>
<circle cx="1206.04" cy="212.87" r="1.7" fill="#000080"/>
<circle cx="1209.54" cy="203.61" r="1.7" fill="#000080"/>
<circle cx="1213.24" cy="206.7" r="1.7" fill="#000080"/>
<line x1="995.2" y1="165.2" x2="995.2" y2="272.5" stroke="#000" stroke-width="1.6"/>
<line x1="994.4" y1="272.5" x2="1223.6" y2="272.5" stroke="#000" stroke-width="1.6"/>
<text x="985" y="276.8" font-family="'Liberation Sans', sans-serif" font-size="10.5" font-weight="normal" fill="#111" text-anchor="end" textLength="11.5" lengthAdjust="spacingAndGlyphs">50</text>
<text x="985" y="258.92" font-family="'Liberation Sans', sans-serif" font-size="10.5" font-weight="normal" fill="#111" text-anchor="end" textLength="11.5" lengthAdjust="spacingAndGlyphs">70</text>
<text x="985" y="241.04" font-family="'Liberation Sans', sans-serif" font-size="10.5" font-weight="normal" fill="#111" text-anchor="end" textLength="11.5" lengthAdjust="spacingAndGlyphs">90</text>
<text x="985" y="223.16" font-family="'Liberation Sans', sans-serif" font-size="10.5" font-weight="normal" fill="#111" text-anchor="end" textLength="17" lengthAdjust="spacingAndGlyphs">110</text>
<text x="985" y="205.28" font-family="'Liberation Sans', sans-serif" font-size="10.5" font-weight="normal" fill="#111" text-anchor="end" textLength="17" lengthAdjust="spacingAndGlyphs">130</text>
<text x="985" y="187.4" font-family="'Liberation Sans', sans-serif" font-size="10.5" font-weight="normal" fill="#111" text-anchor="end" textLength="17" lengthAdjust="spacingAndGlyphs">150</text>
<text x="985" y="169.52" font-family="'Liberation Sans', sans-serif" font-size="10.5" font-weight="normal" fill="#111" text-anchor="end" textLength="17" lengthAdjust="spacingAndGlyphs">170</text>
<text x="1232.8" y="276.8" font-family="'Liberation Sans', sans-serif" font-size="10.5" font-weight="normal" fill="#111" text-anchor="start" textLength="14.2" lengthAdjust="spacingAndGlyphs">0.0</text>
<text x="1232.8" y="258.92" font-family="'Liberation Sans', sans-serif" font-size="10.5" font-weight="normal" fill="#111" text-anchor="start" textLength="14.2" lengthAdjust="spacingAndGlyphs">0.1</text>
<text x="1232.8" y="241.04" font-family="'Liberation Sans', sans-serif" font-size="10.5" font-weight="normal" fill="#111" text-anchor="start" textLength="14.2" lengthAdjust="spacingAndGlyphs">0.2</text>
<text x="1232.8" y="223.16" font-family="'Liberation Sans', sans-serif" font-size="10.5" font-weight="normal" fill="#111" text-anchor="start" textLength="14.2" lengthAdjust="spacingAndGlyphs">0.3</text>
<text x="1232.8" y="205.28" font-family="'Liberation Sans', sans-serif" font-size="10.5" font-weight="normal" fill="#111" text-anchor="start" textLength="14.2" lengthAdjust="spacingAndGlyphs">0.4</text>
<text x="1232.8" y="187.4" font-family="'Liberation Sans', sans-serif" font-size="10.5" font-weight="normal" fill="#111" text-anchor="start" textLength="14.2" lengthAdjust="spacingAndGlyphs">0.5</text>
<text x="1232.8" y="169.52" font-family="'Liberation Sans', sans-serif" font-size="10.5" font-weight="normal" fill="#111" text-anchor="start" textLength="14.2" lengthAdjust="spacingAndGlyphs">0.6</text>
<text x="985.6" y="296.3" font-family="'Liberation Sans', sans-serif" font-size="10.5" font-weight="normal" fill="#111" text-anchor="start" textLength="22.6" lengthAdjust="spacingAndGlyphs">11/1</text>
<text x="1058" y="296.3" font-family="'Liberation Sans', sans-serif" font-size="10.5" font-weight="normal" fill="#111" text-anchor="start" textLength="22.2" lengthAdjust="spacingAndGlyphs">12/1</text>
<text x="1127.3" y="296.3" font-family="'Liberation Sans', sans-serif" font-size="10.5" font-weight="normal" fill="#111" text-anchor="start" textLength="29" lengthAdjust="spacingAndGlyphs">12/30</text>
<text x="1204.6" y="296.3" font-family="'Liberation Sans', sans-serif" font-size="10.5" font-weight="normal" fill="#111" text-anchor="start" textLength="16.4" lengthAdjust="spacingAndGlyphs">2/1</text>
<rect x="994.6" y="231.8" width="133" height="46.2" fill="#fff" stroke="#C0C0C0" stroke-width="1.4"/>
<line x1="998.3" y1="243.3" x2="1019.9" y2="243.3" stroke="#000080" stroke-width="1.2"/>
<circle cx="1009.5" cy="243.3" r="1.7" fill="#000080"/>
<line x1="998.3" y1="266.3" x2="1019.9" y2="266.3" stroke="#0A800A" stroke-width="1.2"/>
<text x="1023.6" y="249.3" font-family="'Liberation Sans', sans-serif" font-size="11" font-weight="normal" fill="#111" text-anchor="start" textLength="22.3" lengthAdjust="spacingAndGlyphs">ATR</text>
<text x="1047.6" y="249.1" font-family="'Liberation Sans', sans-serif" font-size="11" font-weight="normal" fill="#111" text-anchor="start">(</text>
<text x="1118.8" y="249.1" font-family="'Liberation Sans', sans-serif" font-size="11" font-weight="normal" fill="#111" text-anchor="start">)</text>
<text x="1052.5" y="249.6" font-family="'Liberation Sans', 'Noto Sans CJK JP', sans-serif" font-size="9.5" font-weight="normal" fill="#111" text-anchor="start" textLength="65.5" lengthAdjust="spacingAndGlyphs">ボラティリティ</text>
<text x="1023.6" y="272" font-family="'Liberation Sans', sans-serif" font-size="11" font-weight="normal" fill="#111" text-anchor="start" textLength="22.3" lengthAdjust="spacingAndGlyphs">ADX</text>
<text x="1047.6" y="271.8" font-family="'Liberation Sans', sans-serif" font-size="11" font-weight="normal" fill="#111" text-anchor="start">(</text>
<text x="1091.6" y="271.8" font-family="'Liberation Sans', sans-serif" font-size="11" font-weight="normal" fill="#111" text-anchor="start">)</text>
<text x="1053.2" y="272.3" font-family="'Liberation Sans', 'Noto Sans CJK JP', sans-serif" font-size="9.5" font-weight="normal" fill="#111" text-anchor="start" textLength="37.5" lengthAdjust="spacingAndGlyphs">トレンド</text>
<rect x="102.8" y="506.8" width="1075.2" height="9" fill="#B2D1FF"/>
<rect x="102.8" y="572" width="676.5" height="12.6" fill="#B2D1FF"/>
<rect x="779" y="572.2" width="88.2" height="4.5" fill="#B2D1FF"/>
<rect x="102.8" y="636.3" width="501.2" height="21.5" fill="#B2D1FF"/>
<rect x="102.8" y="683.2" width="429.7" height="19.5" fill="#B2D1FF"/>
<rect x="532" y="682.4" width="35" height="3" fill="#B2D1FF"/>
<rect x="353" y="773.7" width="12" height="20.2" fill="#B2D1FF"/>
<rect x="353" y="773.7" width="130.8" height="2.9" fill="#B2D1FF"/>
<rect x="437" y="805.4" width="35.4" height="3.6" fill="#B2D1FF"/>
<rect x="627.7" y="639.1" width="12.9" height="6.6" fill="#B2D1FF"/>
<rect x="878.2" y="586.2" width="12.1" height="8.5" fill="#B2D1FF"/>
<rect x="1069.2" y="540.4" width="108.8" height="6.8" fill="#B2D1FF"/>
<rect x="1153.2" y="585.7" width="24.8" height="6.5" fill="#B2D1FF"/>
<rect x="1153.2" y="585.7" width="12.7" height="15.1" fill="#B2D1FF"/>
<rect x="483.8" y="772" width="694.2" height="27.3" fill="#FFB3B3"/>
<rect x="471.9" y="821.2" width="706.1" height="24.3" fill="#FFB3B3"/>
<rect x="245.8" y="756.2" width="36.5" height="7.8" fill="#FFB3B3"/>
<rect x="519.9" y="716.5" width="24.3" height="4.9" fill="#FFB3B3"/>
<rect x="604" y="654.9" width="24.4" height="1.8" fill="#FFB3B3"/>
<rect x="699" y="627" width="37.3" height="35.2" fill="#FFB3B3"/>
<rect x="736" y="637.9" width="442" height="22.3" fill="#FFB3B3"/>
<rect x="747.2" y="617.8" width="430.8" height="7" fill="#FFB3B3"/>
<rect x="962.1" y="553.3" width="106.9" height="14.6" fill="#FFB3B3"/>
<rect x="1069" y="564" width="11.2" height="3.9" fill="#FFB3B3"/>
<rect x="938.3" y="586.9" width="142.6" height="2.9" fill="#FFB3B3"/>
<rect x="1105.2" y="580.1" width="36.6" height="2.9" fill="#FFB3B3"/>
<text x="98.6" y="553.8" font-family="'Liberation Sans', sans-serif" font-size="11" font-weight="normal" fill="#000" text-anchor="end" textLength="36.5" lengthAdjust="spacingAndGlyphs">10,500</text>
<text x="98.6" y="621.15" font-family="'Liberation Sans', sans-serif" font-size="11" font-weight="normal" fill="#000" text-anchor="end" textLength="36.5" lengthAdjust="spacingAndGlyphs">10,200</text>
<text x="98.6" y="688.5" font-family="'Liberation Sans', sans-serif" font-size="11" font-weight="normal" fill="#000" text-anchor="end" textLength="30" lengthAdjust="spacingAndGlyphs">9,900</text>
<text x="98.6" y="755.85" font-family="'Liberation Sans', sans-serif" font-size="11" font-weight="normal" fill="#000" text-anchor="end" textLength="30" lengthAdjust="spacingAndGlyphs">9,600</text>
<text x="98.6" y="823.2" font-family="'Liberation Sans', sans-serif" font-size="11" font-weight="normal" fill="#000" text-anchor="end" textLength="30" lengthAdjust="spacingAndGlyphs">9,300</text>
<text transform="translate(107.7,899.4) scale(1,1.12)" x="0 4.78 10.46 14.34 19.12" font-family="'Liberation Sans', sans-serif" font-size="8.3" font-weight="bold" fill="#000">09/16</text>
<text transform="translate(154.7,899.4) scale(1,1.12)" x="0 4.78 10.46 14.34 19.12" font-family="'Liberation Sans', sans-serif" font-size="8.3" font-weight="bold" fill="#000">09/24</text>
<text transform="translate(202.7,899.4) scale(1,1.12)" x="0 4.78 10.46 14.34 19.12" font-family="'Liberation Sans', sans-serif" font-size="8.3" font-weight="bold" fill="#000">09/30</text>
<text transform="translate(250.7,899.4) scale(1,1.12)" x="0 4.78 10.46 14.34 19.12" font-family="'Liberation Sans', sans-serif" font-size="8.3" font-weight="bold" fill="#000">10/06</text>
<text transform="translate(297.7,899.4) scale(1,1.12)" x="0 4.78 10.46 14.34 19.12" font-family="'Liberation Sans', sans-serif" font-size="8.3" font-weight="bold" fill="#000">10/13</text>
<text transform="translate(345.7,899.4) scale(1,1.12)" x="0 4.78 10.46 14.34 19.12" font-family="'Liberation Sans', sans-serif" font-size="8.3" font-weight="bold" fill="#000">10/19</text>
<text transform="translate(393.7,899.4) scale(1,1.12)" x="0 4.78 10.46 14.34 19.12" font-family="'Liberation Sans', sans-serif" font-size="8.3" font-weight="bold" fill="#000">10/25</text>
<text transform="translate(441.7,899.4) scale(1,1.12)" x="0 4.78 10.46 14.34 19.12" font-family="'Liberation Sans', sans-serif" font-size="8.3" font-weight="bold" fill="#000">10/29</text>
<text transform="translate(488.7,899.4) scale(1,1.12)" x="0 4.78 10.46 14.34 19.12" font-family="'Liberation Sans', sans-serif" font-size="8.3" font-weight="bold" fill="#000">11/05</text>
<text transform="translate(536.7,899.4) scale(1,1.12)" x="0 4.78 10.46 14.34 19.12" font-family="'Liberation Sans', sans-serif" font-size="8.3" font-weight="bold" fill="#000">11/11</text>
<text transform="translate(584.7,899.4) scale(1,1.12)" x="0 4.78 10.46 14.34 19.12" font-family="'Liberation Sans', sans-serif" font-size="8.3" font-weight="bold" fill="#000">11/17</text>
<text transform="translate(632.7,899.4) scale(1,1.12)" x="0 4.78 10.46 14.34 19.12" font-family="'Liberation Sans', sans-serif" font-size="8.3" font-weight="bold" fill="#000">11/24</text>
<text transform="translate(679.7,899.4) scale(1,1.12)" x="0 4.78 10.46 14.34 19.12" font-family="'Liberation Sans', sans-serif" font-size="8.3" font-weight="bold" fill="#000">11/30</text>
<text transform="translate(727.7,899.4) scale(1,1.12)" x="0 4.78 10.46 14.34 19.12" font-family="'Liberation Sans', sans-serif" font-size="8.3" font-weight="bold" fill="#000">12/06</text>
<text transform="translate(775.7,899.4) scale(1,1.12)" x="0 4.78 10.46 14.34 19.12" font-family="'Liberation Sans', sans-serif" font-size="8.3" font-weight="bold" fill="#000">12/10</text>
<text transform="translate(822.7,899.4) scale(1,1.12)" x="0 4.78 10.46 14.34 19.12" font-family="'Liberation Sans', sans-serif" font-size="8.3" font-weight="bold" fill="#000">12/16</text>
<text transform="translate(870.7,899.4) scale(1,1.12)" x="0 4.78 10.46 14.34 19.12" font-family="'Liberation Sans', sans-serif" font-size="8.3" font-weight="bold" fill="#000">12/22</text>
<text transform="translate(918.7,899.4) scale(1,1.12)" x="0 4.78 10.46 14.34 19.12" font-family="'Liberation Sans', sans-serif" font-size="8.3" font-weight="bold" fill="#000">12/29</text>
<text transform="translate(966.7,899.4) scale(1,1.12)" x="0 4.78 10.46 14.34 19.12" font-family="'Liberation Sans', sans-serif" font-size="8.3" font-weight="bold" fill="#000">01/06</text>
<text transform="translate(1013.7,899.4) scale(1,1.12)" x="0 4.78 10.46 14.34 19.12" font-family="'Liberation Sans', sans-serif" font-size="8.3" font-weight="bold" fill="#000">01/13</text>
<text transform="translate(1061.7,899.4) scale(1,1.12)" x="0 4.78 10.46 14.34 19.12" font-family="'Liberation Sans', sans-serif" font-size="8.3" font-weight="bold" fill="#000">01/19</text>
<text transform="translate(1109.7,899.4) scale(1,1.12)" x="0 4.78 10.46 14.34 19.12" font-family="'Liberation Sans', sans-serif" font-size="8.3" font-weight="bold" fill="#000">01/25</text>
<text transform="translate(1157.7,899.4) scale(1,1.12)" x="0 4.78 10.46 14.34 19.12" font-family="'Liberation Sans', sans-serif" font-size="8.3" font-weight="bold" fill="#000">01/31</text>
<line x1="107.5" y1="744.51" x2="107.5" y2="777.37" stroke="#000080" stroke-width="1.1"/>
<rect x="103.2" y="746.21" width="8.6" height="23.37" fill="#000080"/>
<line x1="119.25" y1="739.15" x2="119.25" y2="743.29" stroke="#F00000" stroke-width="1.1"/>
<line x1="119.25" y1="753.03" x2="119.25" y2="759.36" stroke="#F00000" stroke-width="1.1"/>
<rect x="115.45" y="743.79" width="7.6" height="8.74" fill="none" stroke="#F00000" stroke-width="1.1"/>
<line x1="131" y1="725.76" x2="131" y2="753.03" stroke="#000080" stroke-width="1.1"/>
<rect x="126.7" y="725.76" width="8.6" height="23.13" fill="#000080"/>
<line x1="142.75" y1="743.29" x2="142.75" y2="761.55" stroke="#F00000" stroke-width="1.1"/>
<line x1="138.45" y1="757.04" x2="147.05" y2="757.04" stroke="#F00000" stroke-width="1.7"/>
<line x1="154.5" y1="747.67" x2="154.5" y2="778.59" stroke="#F00000" stroke-width="1.1"/>
<line x1="154.5" y1="786.38" x2="154.5" y2="790.76" stroke="#F00000" stroke-width="1.1"/>
<rect x="150.7" y="779.09" width="7.6" height="6.79" fill="none" stroke="#F00000" stroke-width="1.1"/>
<line x1="166.5" y1="745.73" x2="166.5" y2="748.65" stroke="#F00000" stroke-width="1.1"/>
<line x1="166.5" y1="758.38" x2="166.5" y2="763.5" stroke="#F00000" stroke-width="1.1"/>
<rect x="162.7" y="749.15" width="7.6" height="8.74" fill="none" stroke="#F00000" stroke-width="1.1"/>
<line x1="178.5" y1="759.11" x2="178.5" y2="778.59" stroke="#000080" stroke-width="1.1"/>
<rect x="174.2" y="761.06" width="8.6" height="11.44" fill="#000080"/>
<line x1="190.5" y1="749.38" x2="190.5" y2="758.38" stroke="#F00000" stroke-width="1.1"/>
<line x1="190.5" y1="765.69" x2="190.5" y2="771.77" stroke="#F00000" stroke-width="1.1"/>
<rect x="186.7" y="758.88" width="7.6" height="6.3" fill="none" stroke="#F00000" stroke-width="1.1"/>
<line x1="202.5" y1="756.19" x2="202.5" y2="801.71" stroke="#000080" stroke-width="1.1"/>
<rect x="198.2" y="759.11" width="8.6" height="42.6" fill="#000080"/>
<line x1="214.5" y1="778.1" x2="214.5" y2="803.66" stroke="#000080" stroke-width="1.1"/>
<rect x="210.2" y="785.16" width="8.6" height="8.52" fill="#000080"/>
<line x1="226.5" y1="769.34" x2="226.5" y2="803.66" stroke="#000080" stroke-width="1.1"/>
<rect x="222.2" y="791.25" width="8.6" height="7.3" fill="#000080"/>
<line x1="238.5" y1="763.25" x2="238.5" y2="767.15" stroke="#F00000" stroke-width="1.1"/>
<line x1="238.5" y1="808.53" x2="238.5" y2="809.75" stroke="#F00000" stroke-width="1.1"/>
<rect x="234.7" y="767.65" width="7.6" height="40.38" fill="none" stroke="#F00000" stroke-width="1.1"/>
<line x1="250.5" y1="751.81" x2="250.5" y2="757.41" stroke="#F00000" stroke-width="1.1"/>
<rect x="246.7" y="728.7" width="7.6" height="22.61" fill="none" stroke="#F00000" stroke-width="1.1"/>
<line x1="262.25" y1="723.33" x2="262.25" y2="730.39" stroke="#F00000" stroke-width="1.1"/>
<line x1="262.25" y1="735.5" x2="262.25" y2="738.42" stroke="#F00000" stroke-width="1.1"/>
<rect x="258.45" y="730.89" width="7.6" height="4.11" fill="none" stroke="#F00000" stroke-width="1.1"/>
<line x1="274" y1="731.85" x2="274" y2="751.81" stroke="#000080" stroke-width="1.1"/>
<rect x="269.7" y="731.85" width="8.6" height="19.96" fill="#000080"/>
<line x1="285.75" y1="737.94" x2="285.75" y2="796.85" stroke="#000080" stroke-width="1.1"/>
<rect x="281.45" y="737.94" width="8.6" height="58.91" fill="#000080"/>
<line x1="297.5" y1="769.34" x2="297.5" y2="793.68" stroke="#000080" stroke-width="1.1"/>
<rect x="293.2" y="776.88" width="8.6" height="16.8" fill="#000080"/>
<line x1="309.5" y1="746.21" x2="309.5" y2="753.52" stroke="#F00000" stroke-width="1.1"/>
<line x1="309.5" y1="768.36" x2="309.5" y2="775.67" stroke="#F00000" stroke-width="1.1"/>
<rect x="305.7" y="754.02" width="7.6" height="13.85" fill="none" stroke="#F00000" stroke-width="1.1"/>
<line x1="321.5" y1="759.11" x2="321.5" y2="776.64" stroke="#000080" stroke-width="1.1"/>
<rect x="317.2" y="760.33" width="8.6" height="11.44" fill="#000080"/>
<line x1="333.5" y1="757.41" x2="333.5" y2="778.59" stroke="#000080" stroke-width="1.1"/>
<rect x="329.2" y="766.9" width="8.6" height="5.6" fill="#000080"/>
<line x1="345.5" y1="753.03" x2="345.5" y2="762.77" stroke="#F00000" stroke-width="1.1"/>
<line x1="345.5" y1="773.72" x2="345.5" y2="774.45" stroke="#F00000" stroke-width="1.1"/>
<rect x="341.7" y="763.27" width="7.6" height="9.95" fill="none" stroke="#F00000" stroke-width="1.1"/>
<line x1="357.5" y1="793.19" x2="357.5" y2="812.67" stroke="#000080" stroke-width="1.1"/>
<rect x="353.2" y="793.92" width="8.6" height="4.87" fill="#000080"/>
<line x1="369.5" y1="776.15" x2="369.5" y2="810.96" stroke="#000080" stroke-width="1.1"/>
<rect x="365.2" y="784.19" width="8.6" height="15.58" fill="#000080"/>
<line x1="381.5" y1="781.02" x2="381.5" y2="788.33" stroke="#F00000" stroke-width="1.1"/>
<line x1="381.5" y1="793.92" x2="381.5" y2="796.85" stroke="#F00000" stroke-width="1.1"/>
<rect x="377.7" y="788.83" width="7.6" height="4.6" fill="none" stroke="#F00000" stroke-width="1.1"/>
<line x1="393.5" y1="779.81" x2="393.5" y2="794.9" stroke="#000080" stroke-width="1.1"/>
<rect x="389.2" y="788.33" width="8.6" height="5.6" fill="#000080"/>
<line x1="405.5" y1="781.02" x2="405.5" y2="802.93" stroke="#000080" stroke-width="1.1"/>
<rect x="401.2" y="797.33" width="8.6" height="2.43" fill="#000080"/>
<line x1="417.5" y1="782.24" x2="417.5" y2="809.75" stroke="#000080" stroke-width="1.1"/>
<rect x="413.2" y="785.89" width="8.6" height="12.17" fill="#000080"/>
<line x1="429.5" y1="791.25" x2="429.5" y2="805.85" stroke="#000080" stroke-width="1.1"/>
<line x1="425.2" y1="801.23" x2="433.8" y2="801.23" stroke="#000080" stroke-width="1.2"/>
<line x1="441.5" y1="806.58" x2="441.5" y2="843.58" stroke="#000080" stroke-width="1.1"/>
<rect x="437.2" y="810.23" width="8.6" height="28.72" fill="#000080"/>
<line x1="453.25" y1="825.33" x2="453.25" y2="853.56" stroke="#000080" stroke-width="1.1"/>
<rect x="448.95" y="846.26" width="8.6" height="3.41" fill="#000080"/>
<line x1="465" y1="845.04" x2="465" y2="847.48" stroke="#F00000" stroke-width="1.1"/>
<line x1="465" y1="852.35" x2="465" y2="856.48" stroke="#F00000" stroke-width="1.1"/>
<rect x="461.2" y="847.98" width="7.6" height="3.87" fill="none" stroke="#F00000" stroke-width="1.1"/>
<line x1="476.75" y1="799.28" x2="476.75" y2="803.42" stroke="#F00000" stroke-width="1.1"/>
<line x1="476.75" y1="820.46" x2="476.75" y2="821.92" stroke="#F00000" stroke-width="1.1"/>
<rect x="472.95" y="803.92" width="7.6" height="16.04" fill="none" stroke="#F00000" stroke-width="1.1"/>
<line x1="488.5" y1="731.12" x2="488.5" y2="743.29" stroke="#F00000" stroke-width="1.1"/>
<rect x="484.7" y="743.79" width="7.6" height="27.48" fill="none" stroke="#F00000" stroke-width="1.1"/>
<line x1="500.5" y1="717.73" x2="500.5" y2="719.44" stroke="#F00000" stroke-width="1.1"/>
<line x1="500.5" y1="726.98" x2="500.5" y2="731.61" stroke="#F00000" stroke-width="1.1"/>
<rect x="496.7" y="719.94" width="7.6" height="6.55" fill="none" stroke="#F00000" stroke-width="1.1"/>
<line x1="512.5" y1="720.9" x2="512.5" y2="728.2" stroke="#F00000" stroke-width="1.1"/>
<line x1="512.5" y1="734.28" x2="512.5" y2="735.5" stroke="#F00000" stroke-width="1.1"/>
<rect x="508.7" y="728.7" width="7.6" height="5.09" fill="none" stroke="#F00000" stroke-width="1.1"/>
<line x1="524.5" y1="694.61" x2="524.5" y2="697.04" stroke="#F00000" stroke-width="1.1"/>
<rect x="520.7" y="697.54" width="7.6" height="18.47" fill="none" stroke="#F00000" stroke-width="1.1"/>
<line x1="536.5" y1="684.38" x2="536.5" y2="696.55" stroke="#000080" stroke-width="1.1"/>
<rect x="532.2" y="687.3" width="8.6" height="3.65" fill="#000080"/>
<line x1="548.5" y1="693.39" x2="548.5" y2="721.38" stroke="#000080" stroke-width="1.1"/>
<rect x="544.2" y="702.4" width="8.6" height="18.99" fill="#000080"/>
<line x1="560.5" y1="696.55" x2="560.5" y2="698.74" stroke="#F00000" stroke-width="1.1"/>
<line x1="560.5" y1="708.48" x2="560.5" y2="716.51" stroke="#F00000" stroke-width="1.1"/>
<rect x="556.7" y="699.24" width="7.6" height="8.74" fill="none" stroke="#F00000" stroke-width="1.1"/>
<line x1="572.5" y1="680.5" x2="572.5" y2="710.93" stroke="#000080" stroke-width="1.1"/>
<rect x="568.2" y="682.93" width="8.6" height="22.64" fill="#000080"/>
<line x1="584.5" y1="699.48" x2="584.5" y2="702.41" stroke="#F00000" stroke-width="1.1"/>
<rect x="580.7" y="702.91" width="7.6" height="25.05" fill="none" stroke="#F00000" stroke-width="1.1"/>
<line x1="596.5" y1="700.46" x2="596.5" y2="704.84" stroke="#F00000" stroke-width="1.1"/>
<rect x="592.7" y="657.14" width="7.6" height="42.82" fill="none" stroke="#F00000" stroke-width="1.1"/>
<line x1="608.5" y1="629.86" x2="608.5" y2="654.94" stroke="#000080" stroke-width="1.1"/>
<rect x="604.2" y="631.08" width="8.6" height="23.86" fill="#000080"/>
<line x1="620.5" y1="624.02" x2="620.5" y2="639.6" stroke="#000080" stroke-width="1.1"/>
<rect x="616.2" y="630.11" width="8.6" height="4.63" fill="#000080"/>
<line x1="632.5" y1="645.2" x2="632.5" y2="653.23" stroke="#F00000" stroke-width="1.1"/>
<line x1="632.5" y1="672.46" x2="632.5" y2="681.23" stroke="#F00000" stroke-width="1.1"/>
<rect x="628.7" y="653.73" width="7.6" height="18.23" fill="none" stroke="#F00000" stroke-width="1.1"/>
<line x1="644.25" y1="631.81" x2="644.25" y2="651.77" stroke="#000080" stroke-width="1.1"/>
<rect x="639.95" y="633.03" width="8.6" height="9.74" fill="#000080"/>
<line x1="656" y1="628.89" x2="656" y2="651.77" stroke="#000080" stroke-width="1.1"/>
<rect x="651.7" y="642.04" width="8.6" height="9.74" fill="#000080"/>
<line x1="667.75" y1="625.73" x2="667.75" y2="631.32" stroke="#F00000" stroke-width="1.1"/>
<line x1="667.75" y1="642.77" x2="667.75" y2="650.8" stroke="#F00000" stroke-width="1.1"/>
<rect x="663.95" y="631.82" width="7.6" height="10.44" fill="none" stroke="#F00000" stroke-width="1.1"/>
<line x1="679.5" y1="637.17" x2="679.5" y2="676.85" stroke="#000080" stroke-width="1.1"/>
<rect x="675.2" y="644.47" width="8.6" height="29.21" fill="#000080"/>
<line x1="691.5" y1="673.68" x2="691.5" y2="678.79" stroke="#F00000" stroke-width="1.1"/>
<rect x="687.7" y="662.74" width="7.6" height="10.44" fill="none" stroke="#F00000" stroke-width="1.1"/>
<line x1="703.5" y1="617.21" x2="703.5" y2="622.56" stroke="#F00000" stroke-width="1.1"/>
<line x1="703.5" y1="626.46" x2="703.5" y2="628.16" stroke="#F00000" stroke-width="1.1"/>
<rect x="699.7" y="623.06" width="7.6" height="2.89" fill="none" stroke="#F00000" stroke-width="1.1"/>
<line x1="715.5" y1="603.09" x2="715.5" y2="625.73" stroke="#000080" stroke-width="1.1"/>
<rect x="711.2" y="608.2" width="8.6" height="11.44" fill="#000080"/>
<line x1="727.5" y1="618.42" x2="727.5" y2="627.67" stroke="#000080" stroke-width="1.1"/>
<rect x="723.2" y="620.13" width="8.6" height="2.68" fill="#000080"/>
<line x1="739.5" y1="622.07" x2="739.5" y2="638.38" stroke="#000080" stroke-width="1.1"/>
<rect x="735.2" y="625.24" width="8.6" height="3.41" fill="#000080"/>
<line x1="751.5" y1="601.38" x2="751.5" y2="607.47" stroke="#F00000" stroke-width="1.1"/>
<line x1="751.5" y1="615.5" x2="751.5" y2="618.42" stroke="#F00000" stroke-width="1.1"/>
<rect x="747.7" y="607.97" width="7.6" height="7.03" fill="none" stroke="#F00000" stroke-width="1.1"/>
<line x1="763.5" y1="592.86" x2="763.5" y2="595.78" stroke="#F00000" stroke-width="1.1"/>
<line x1="763.5" y1="597.73" x2="763.5" y2="606.74" stroke="#F00000" stroke-width="1.1"/>
<rect x="759.7" y="596.28" width="7.6" height="1" fill="none" stroke="#F00000" stroke-width="1.1"/>
<line x1="775.5" y1="575.82" x2="775.5" y2="616.72" stroke="#000080" stroke-width="1.1"/>
<rect x="771.2" y="575.82" width="8.6" height="36.51" fill="#000080"/>
<line x1="787.25" y1="612.34" x2="787.25" y2="615.5" stroke="#F00000" stroke-width="1.1"/>
<rect x="783.45" y="594.58" width="7.6" height="17.26" fill="none" stroke="#F00000" stroke-width="1.1"/>
<line x1="799" y1="598.46" x2="799" y2="600.65" stroke="#F00000" stroke-width="1.1"/>
<rect x="795.2" y="588.98" width="7.6" height="8.98" fill="none" stroke="#F00000" stroke-width="1.1"/>
<line x1="810.75" y1="582.5" x2="810.75" y2="597.11" stroke="#000080" stroke-width="1.1"/>
<rect x="806.45" y="583.72" width="8.6" height="6.82" fill="#000080"/>
<line x1="822.5" y1="582.5" x2="822.5" y2="590.29" stroke="#F00000" stroke-width="1.1"/>
<line x1="822.5" y1="593.46" x2="822.5" y2="597.11" stroke="#F00000" stroke-width="1.1"/>
<rect x="818.7" y="590.79" width="7.6" height="2.16" fill="none" stroke="#F00000" stroke-width="1.1"/>
<line x1="834.5" y1="586.15" x2="834.5" y2="597.11" stroke="#000080" stroke-width="1.1"/>
<line x1="830.2" y1="591.14" x2="838.8" y2="591.14" stroke="#000080" stroke-width="1.22"/>
<line x1="846.5" y1="592.24" x2="846.5" y2="616.58" stroke="#000080" stroke-width="1.1"/>
<rect x="842.2" y="592.97" width="8.6" height="18.74" fill="#000080"/>
<line x1="858.5" y1="597.11" x2="858.5" y2="600.76" stroke="#F00000" stroke-width="1.1"/>
<rect x="854.7" y="576.92" width="7.6" height="19.69" fill="none" stroke="#F00000" stroke-width="1.1"/>
<line x1="870.5" y1="571.55" x2="870.5" y2="586.15" stroke="#000080" stroke-width="1.1"/>
<line x1="866.2" y1="582.02" x2="874.8" y2="582.02" stroke="#000080" stroke-width="2.43"/>
<line x1="882.5" y1="593.94" x2="882.5" y2="600.76" stroke="#F00000" stroke-width="1.1"/>
<line x1="878.2" y1="597.59" x2="886.8" y2="597.59" stroke="#F00000" stroke-width="2.43"/>
<line x1="894.5" y1="575.2" x2="894.5" y2="580.56" stroke="#F00000" stroke-width="1.1"/>
<rect x="890.7" y="581.06" width="7.6" height="13.12" fill="none" stroke="#F00000" stroke-width="1.1"/>
<line x1="906.5" y1="583.23" x2="906.5" y2="595.16" stroke="#000080" stroke-width="1.1"/>
<rect x="902.2" y="586.64" width="8.6" height="8.52" fill="#000080"/>
<line x1="918.5" y1="596.38" x2="918.5" y2="597.11" stroke="#F00000" stroke-width="1.1"/>
<rect x="914.7" y="582.52" width="7.6" height="13.36" fill="none" stroke="#F00000" stroke-width="1.1"/>
<line x1="930.5" y1="589.32" x2="930.5" y2="612.44" stroke="#000080" stroke-width="1.1"/>
<rect x="926.2" y="592.24" width="8.6" height="16.31" fill="#000080"/>
<line x1="942.5" y1="567.9" x2="942.5" y2="570.33" stroke="#F00000" stroke-width="1.1"/>
<line x1="942.5" y1="581.77" x2="942.5" y2="587.37" stroke="#F00000" stroke-width="1.1"/>
<rect x="938.7" y="570.83" width="7.6" height="10.44" fill="none" stroke="#F00000" stroke-width="1.1"/>
<line x1="954.5" y1="567.41" x2="954.5" y2="579.58" stroke="#000080" stroke-width="1.1"/>
<line x1="950.2" y1="574.23" x2="958.8" y2="574.23" stroke="#000080" stroke-width="1.95"/>
<rect x="962.7" y="541.62" width="7.6" height="11.66" fill="none" stroke="#F00000" stroke-width="1.1"/>
<line x1="978.25" y1="535.76" x2="978.25" y2="538.2" stroke="#F00000" stroke-width="1.1"/>
<line x1="978.25" y1="546.72" x2="978.25" y2="547.69" stroke="#F00000" stroke-width="1.1"/>
<rect x="974.45" y="538.7" width="7.6" height="7.52" fill="none" stroke="#F00000" stroke-width="1.1"/>
<line x1="990" y1="539.17" x2="990" y2="545.5" stroke="#F00000" stroke-width="1.1"/>
<line x1="990" y1="551.59" x2="990" y2="553.78" stroke="#F00000" stroke-width="1.1"/>
<rect x="986.2" y="546" width="7.6" height="5.09" fill="none" stroke="#F00000" stroke-width="1.1"/>
<line x1="1001.75" y1="530.17" x2="1001.75" y2="547.69" stroke="#000080" stroke-width="1.1"/>
<rect x="997.45" y="534.3" width="8.6" height="11.2" fill="#000080"/>
<line x1="1013.5" y1="521.16" x2="1013.5" y2="533.33" stroke="#000080" stroke-width="1.1"/>
<line x1="1009.2" y1="527.61" x2="1017.8" y2="527.61" stroke="#000080" stroke-width="1.22"/>
<line x1="1025.5" y1="530.17" x2="1025.5" y2="548.91" stroke="#000080" stroke-width="1.1"/>
<line x1="1021.2" y1="548.06" x2="1029.8" y2="548.06" stroke="#000080" stroke-width="1.7"/>
<line x1="1037.5" y1="534.3" x2="1037.5" y2="552.07" stroke="#000080" stroke-width="1.1"/>
<rect x="1033.2" y="534.3" width="8.6" height="13.39" fill="#000080"/>
<line x1="1049.5" y1="537.47" x2="1049.5" y2="543.55" stroke="#F00000" stroke-width="1.1"/>
<line x1="1049.5" y1="556.46" x2="1049.5" y2="558.16" stroke="#F00000" stroke-width="1.1"/>
<rect x="1045.7" y="544.05" width="7.6" height="11.9" fill="none" stroke="#F00000" stroke-width="1.1"/>
<line x1="1061.5" y1="528.95" x2="1061.5" y2="540.63" stroke="#000080" stroke-width="1.1"/>
<rect x="1057.2" y="532.11" width="8.6" height="3.65" fill="#000080"/>
<line x1="1073.5" y1="546.48" x2="1073.5" y2="565.95" stroke="#000080" stroke-width="1.1"/>
<rect x="1069.2" y="549.15" width="8.6" height="13.39" fill="#000080"/>
<line x1="1085.5" y1="556.21" x2="1085.5" y2="603.19" stroke="#000080" stroke-width="1.1"/>
<rect x="1081.2" y="556.94" width="8.6" height="41.87" fill="#000080"/>
<line x1="1097.5" y1="588.59" x2="1097.5" y2="597.84" stroke="#F00000" stroke-width="1.1"/>
<rect x="1093.7" y="583" width="7.6" height="5.09" fill="none" stroke="#F00000" stroke-width="1.1"/>
<line x1="1109.5" y1="552.07" x2="1109.5" y2="555.24" stroke="#F00000" stroke-width="1.1"/>
<line x1="1109.5" y1="576.42" x2="1109.5" y2="580.56" stroke="#F00000" stroke-width="1.1"/>
<rect x="1105.7" y="555.74" width="7.6" height="20.18" fill="none" stroke="#F00000" stroke-width="1.1"/>
<line x1="1121.5" y1="561.08" x2="1121.5" y2="572.77" stroke="#000080" stroke-width="1.1"/>
<line x1="1117.2" y1="568.75" x2="1125.8" y2="568.75" stroke="#000080" stroke-width="1.7"/>
<line x1="1133.5" y1="548.42" x2="1133.5" y2="552.56" stroke="#F00000" stroke-width="1.1"/>
<line x1="1133.5" y1="555.73" x2="1133.5" y2="565.46" stroke="#F00000" stroke-width="1.1"/>
<rect x="1129.7" y="553.06" width="7.6" height="2.16" fill="none" stroke="#F00000" stroke-width="1.1"/>
<line x1="1145.5" y1="552.07" x2="1145.5" y2="585.67" stroke="#000080" stroke-width="1.1"/>
<rect x="1141.2" y="556.21" width="8.6" height="23.37" fill="#000080"/>
<line x1="1157.5" y1="600.76" x2="1157.5" y2="606.85" stroke="#F00000" stroke-width="1.1"/>
<line x1="1157.5" y1="610.5" x2="1157.5" y2="621.45" stroke="#F00000" stroke-width="1.1"/>
<rect x="1153.7" y="607.35" width="7.6" height="2.65" fill="none" stroke="#F00000" stroke-width="1.1"/>
<line x1="1169.43" y1="592.24" x2="1169.43" y2="604.41" stroke="#000080" stroke-width="1.1"/>
<line x1="1165.13" y1="597.11" x2="1173.73" y2="597.11" stroke="#000080" stroke-width="2.43"/>
<line x1="103" y1="547.5" x2="1178" y2="547.5" stroke="#000" stroke-width="1" stroke-dasharray="1 5"/>
<line x1="103" y1="615.5" x2="1178" y2="615.5" stroke="#000" stroke-width="1" stroke-dasharray="1 5"/>
<line x1="103" y1="682.5" x2="1178" y2="682.5" stroke="#000" stroke-width="1" stroke-dasharray="1 5"/>
<line x1="103" y1="749.5" x2="1178" y2="749.5" stroke="#000" stroke-width="1" stroke-dasharray="1 5"/>
<line x1="103" y1="816.5" x2="1178" y2="816.5" stroke="#000" stroke-width="1" stroke-dasharray="1 5"/>
<line x1="107.5" y1="489" x2="107.5" y2="892" stroke="#000" stroke-width="1" stroke-dasharray="1 5"/>
<line x1="154.5" y1="489" x2="154.5" y2="892" stroke="#000" stroke-width="1" stroke-dasharray="1 5"/>
<line x1="202.5" y1="489" x2="202.5" y2="892" stroke="#000" stroke-width="1" stroke-dasharray="1 5"/>
<line x1="250.5" y1="489" x2="250.5" y2="892" stroke="#000" stroke-width="1" stroke-dasharray="1 5"/>
<line x1="297.5" y1="489" x2="297.5" y2="892" stroke="#000" stroke-width="1" stroke-dasharray="1 5"/>
<line x1="345.5" y1="489" x2="345.5" y2="892" stroke="#000" stroke-width="1" stroke-dasharray="1 5"/>
<line x1="393.5" y1="489" x2="393.5" y2="892" stroke="#000" stroke-width="1" stroke-dasharray="1 5"/>
<line x1="441.5" y1="489" x2="441.5" y2="892" stroke="#000" stroke-width="1" stroke-dasharray="1 5"/>
<line x1="488.5" y1="489" x2="488.5" y2="892" stroke="#000" stroke-width="1" stroke-dasharray="1 5"/>
<line x1="536.5" y1="489" x2="536.5" y2="892" stroke="#000" stroke-width="1" stroke-dasharray="1 5"/>
<line x1="584.5" y1="489" x2="584.5" y2="892" stroke="#000" stroke-width="1" stroke-dasharray="1 5"/>
<line x1="632.5" y1="489" x2="632.5" y2="892" stroke="#000" stroke-width="1" stroke-dasharray="1 5"/>
<line x1="679.5" y1="489" x2="679.5" y2="892" stroke="#000" stroke-width="1" stroke-dasharray="1 5"/>
<line x1="727.5" y1="489" x2="727.5" y2="892" stroke="#000" stroke-width="1" stroke-dasharray="1 5"/>
<line x1="775.5" y1="489" x2="775.5" y2="892" stroke="#000" stroke-width="1" stroke-dasharray="1 5"/>
<line x1="822.5" y1="489" x2="822.5" y2="892" stroke="#000" stroke-width="1" stroke-dasharray="1 5"/>
<line x1="870.5" y1="489" x2="870.5" y2="892" stroke="#000" stroke-width="1" stroke-dasharray="1 5"/>
<line x1="918.5" y1="489" x2="918.5" y2="892" stroke="#000" stroke-width="1" stroke-dasharray="1 5"/>
<line x1="966.5" y1="489" x2="966.5" y2="892" stroke="#000" stroke-width="1" stroke-dasharray="1 5"/>
<line x1="1013.5" y1="489" x2="1013.5" y2="892" stroke="#000" stroke-width="1" stroke-dasharray="1 5"/>
<line x1="1061.5" y1="489" x2="1061.5" y2="892" stroke="#000" stroke-width="1" stroke-dasharray="1 5"/>
<line x1="1109.5" y1="489" x2="1109.5" y2="892" stroke="#000" stroke-width="1" stroke-dasharray="1 5"/>
<line x1="1157.5" y1="489" x2="1157.5" y2="892" stroke="#000" stroke-width="1" stroke-dasharray="1 5"/>
<polygon points="106.2,882.7 108.8,882.7 110.5,884.4 110.5,887 108.8,888.7 106.2,888.7 104.5,887 104.5,884.4" fill="none" stroke="#FF9900" stroke-width="1.3" stroke-linejoin="round"/>
<polygon points="117.95,868.58 120.55,868.58 122.25,870.28 122.25,872.88 120.55,874.58 117.95,874.58 116.25,872.88 116.25,870.28" fill="none" stroke="#FF9900" stroke-width="1.3" stroke-linejoin="round"/>
<polygon points="129.7,852.27 132.3,852.27 134,853.97 134,856.57 132.3,858.27 129.7,858.27 128,856.57 128,853.97" fill="none" stroke="#FF9900" stroke-width="1.3" stroke-linejoin="round"/>
<polygon points="141.45,834.74 144.05,834.74 145.75,836.44 145.75,839.04 144.05,840.74 141.45,840.74 139.75,839.04 139.75,836.44" fill="none" stroke="#FF9900" stroke-width="1.3" stroke-linejoin="round"/>
<polygon points="153.2,818.67 155.8,818.67 157.5,820.37 157.5,822.97 155.8,824.67 153.2,824.67 151.5,822.97 151.5,820.37" fill="none" stroke="#FF9900" stroke-width="1.3" stroke-linejoin="round"/>
<polygon points="165.2,805.29 167.8,805.29 169.5,806.99 169.5,809.59 167.8,811.29 165.2,811.29 163.5,809.59 163.5,806.99" fill="none" stroke="#FF9900" stroke-width="1.3" stroke-linejoin="round"/>
<polygon points="177.2,793.36 179.8,793.36 181.5,795.06 181.5,797.66 179.8,799.36 177.2,799.36 175.5,797.66 175.5,795.06" fill="none" stroke="#FF9900" stroke-width="1.3" stroke-linejoin="round"/>
<polygon points="189.2,783.38 191.8,783.38 193.5,785.08 193.5,787.68 191.8,789.38 189.2,789.38 187.5,787.68 187.5,785.08" fill="none" stroke="#FF9900" stroke-width="1.3" stroke-linejoin="round"/>
<polygon points="201.2,723.25 203.8,723.25 205.5,724.95 205.5,727.55 203.8,729.25 201.2,729.25 199.5,727.55 199.5,724.95" fill="none" stroke="#FF9900" stroke-width="1.3" stroke-linejoin="round"/>
<polygon points="213.2,724.22 215.8,724.22 217.5,725.92 217.5,728.52 215.8,730.22 213.2,730.22 211.5,728.52 211.5,725.92" fill="none" stroke="#FF9900" stroke-width="1.3" stroke-linejoin="round"/>
<polygon points="225.2,727.39 227.8,727.39 229.5,729.09 229.5,731.69 227.8,733.39 225.2,733.39 223.5,731.69 223.5,729.09" fill="none" stroke="#FF9900" stroke-width="1.3" stroke-linejoin="round"/>
<polygon points="237.2,730.55 239.8,730.55 241.5,732.25 241.5,734.85 239.8,736.55 237.2,736.55 235.5,734.85 235.5,732.25" fill="none" stroke="#FF9900" stroke-width="1.3" stroke-linejoin="round"/>
<polygon points="249.2,806.75 251.8,806.75 253.5,808.45 253.5,811.05 251.8,812.75 249.2,812.75 247.5,811.05 247.5,808.45" fill="none" stroke="#FF9900" stroke-width="1.3" stroke-linejoin="round"/>
<polygon points="260.95,804.31 263.55,804.31 265.25,806.01 265.25,808.61 263.55,810.31 260.95,810.31 259.25,808.61 259.25,806.01" fill="none" stroke="#FF9900" stroke-width="1.3" stroke-linejoin="round"/>
<polygon points="272.7,801.63 275.3,801.63 277,803.33 277,805.93 275.3,807.63 272.7,807.63 271,805.93 271,803.33" fill="none" stroke="#FF9900" stroke-width="1.3" stroke-linejoin="round"/>
<polygon points="284.45,798.23 287.05,798.23 288.75,799.93 288.75,802.53 287.05,804.23 284.45,804.23 282.75,802.53 282.75,799.93" fill="none" stroke="#FF9900" stroke-width="1.3" stroke-linejoin="round"/>
<polygon points="296.2,795.06 298.8,795.06 300.5,796.76 300.5,799.36 298.8,801.06 296.2,801.06 294.5,799.36 294.5,796.76" fill="none" stroke="#FF9900" stroke-width="1.3" stroke-linejoin="round"/>
<polygon points="308.2,791.41 310.8,791.41 312.5,793.11 312.5,795.71 310.8,797.41 308.2,797.41 306.5,795.71 306.5,793.11" fill="none" stroke="#FF9900" stroke-width="1.3" stroke-linejoin="round"/>
<polygon points="320.2,789.46 322.8,789.46 324.5,791.16 324.5,793.76 322.8,795.46 320.2,795.46 318.5,793.76 318.5,791.16" fill="none" stroke="#FF9900" stroke-width="1.3" stroke-linejoin="round"/>
<polygon points="332.2,786.54 334.8,786.54 336.5,788.24 336.5,790.84 334.8,792.54 332.2,792.54 330.5,790.84 330.5,788.24" fill="none" stroke="#FF9900" stroke-width="1.3" stroke-linejoin="round"/>
<polygon points="344.2,783.38 346.8,783.38 348.5,785.08 348.5,787.68 346.8,789.38 344.2,789.38 342.5,787.68 342.5,785.08" fill="none" stroke="#FF9900" stroke-width="1.3" stroke-linejoin="round"/>
<polygon points="356.2,720.82 358.8,720.82 360.5,722.52 360.5,725.12 358.8,726.82 356.2,726.82 354.5,725.12 354.5,722.52" fill="none" stroke="#FF9900" stroke-width="1.3" stroke-linejoin="round"/>
<polygon points="368.2,722.52 370.8,722.52 372.5,724.22 372.5,726.82 370.8,728.52 368.2,728.52 366.5,726.82 366.5,724.22" fill="none" stroke="#FF9900" stroke-width="1.3" stroke-linejoin="round"/>
<polygon points="380.2,723.49 382.8,723.49 384.5,725.19 384.5,727.79 382.8,729.49 380.2,729.49 378.5,727.79 378.5,725.19" fill="none" stroke="#FF9900" stroke-width="1.3" stroke-linejoin="round"/>
<polygon points="392.2,725.69 394.8,725.69 396.5,727.39 396.5,729.99 394.8,731.69 392.2,731.69 390.5,729.99 390.5,727.39" fill="none" stroke="#FF9900" stroke-width="1.3" stroke-linejoin="round"/>
<polygon points="404.2,727.63 406.8,727.63 408.5,729.33 408.5,731.93 406.8,733.63 404.2,733.63 402.5,731.93 402.5,729.33" fill="none" stroke="#FF9900" stroke-width="1.3" stroke-linejoin="round"/>
<polygon points="416.2,728.61 418.8,728.61 420.5,730.31 420.5,732.91 418.8,734.61 416.2,734.61 414.5,732.91 414.5,730.31" fill="none" stroke="#FF9900" stroke-width="1.3" stroke-linejoin="round"/>
<polygon points="428.2,730.55 430.8,730.55 432.5,732.25 432.5,734.85 430.8,736.55 428.2,736.55 426.5,734.85 426.5,732.25" fill="none" stroke="#FF9900" stroke-width="1.3" stroke-linejoin="round"/>
<polygon points="440.2,732.5 442.8,732.5 444.5,734.2 444.5,736.8 442.8,738.5 440.2,738.5 438.5,736.8 438.5,734.2" fill="none" stroke="#FF9900" stroke-width="1.3" stroke-linejoin="round"/>
<polygon points="451.95,736.4 454.55,736.4 456.25,738.1 456.25,740.7 454.55,742.4 451.95,742.4 450.25,740.7 450.25,738.1" fill="none" stroke="#FF9900" stroke-width="1.3" stroke-linejoin="round"/>
<polygon points="463.7,743.21 466.3,743.21 468,744.91 468,747.51 466.3,749.21 463.7,749.21 462,747.51 462,744.91" fill="none" stroke="#FF9900" stroke-width="1.3" stroke-linejoin="round"/>
<polygon points="475.45,752.46 478.05,752.46 479.75,754.16 479.75,756.76 478.05,758.46 475.45,758.46 473.75,756.76 473.75,754.16" fill="none" stroke="#FF9900" stroke-width="1.3" stroke-linejoin="round"/>
<polygon points="487.2,853.48 489.8,853.48 491.5,855.18 491.5,857.78 489.8,859.48 487.2,859.48 485.5,857.78 485.5,855.18" fill="none" stroke="#FF9900" stroke-width="1.3" stroke-linejoin="round"/>
<polygon points="499.2,850.56 501.8,850.56 503.5,852.26 503.5,854.86 501.8,856.56 499.2,856.56 497.5,854.86 497.5,852.26" fill="none" stroke="#FF9900" stroke-width="1.3" stroke-linejoin="round"/>
<polygon points="511.2,845.45 513.8,845.45 515.5,847.15 515.5,849.75 513.8,851.45 511.2,851.45 509.5,849.75 509.5,847.15" fill="none" stroke="#FF9900" stroke-width="1.3" stroke-linejoin="round"/>
<polygon points="523.2,839.37 525.8,839.37 527.5,841.07 527.5,843.67 525.8,845.37 523.2,845.37 521.5,843.67 521.5,841.07" fill="none" stroke="#FF9900" stroke-width="1.3" stroke-linejoin="round"/>
<polygon points="535.2,831.33 537.8,831.33 539.5,833.03 539.5,835.63 537.8,837.33 535.2,837.33 533.5,835.63 533.5,833.03" fill="none" stroke="#FF9900" stroke-width="1.3" stroke-linejoin="round"/>
<polygon points="547.2,819.65 549.8,819.65 551.5,821.35 551.5,823.95 549.8,825.65 547.2,825.65 545.5,823.95 545.5,821.35" fill="none" stroke="#FF9900" stroke-width="1.3" stroke-linejoin="round"/>
<polygon points="559.2,808.69 561.8,808.69 563.5,810.39 563.5,812.99 561.8,814.69 559.2,814.69 557.5,812.99 557.5,810.39" fill="none" stroke="#FF9900" stroke-width="1.3" stroke-linejoin="round"/>
<polygon points="571.2,798.23 573.8,798.23 575.5,799.93 575.5,802.53 573.8,804.23 571.2,804.23 569.5,802.53 569.5,799.93" fill="none" stroke="#FF9900" stroke-width="1.3" stroke-linejoin="round"/>
<polygon points="583.2,786.54 585.8,786.54 587.5,788.24 587.5,790.84 585.8,792.54 583.2,792.54 581.5,790.84 581.5,788.24" fill="none" stroke="#FF9900" stroke-width="1.3" stroke-linejoin="round"/>
<polygon points="595.2,774.38 597.8,774.38 599.5,776.08 599.5,778.68 597.8,780.38 595.2,780.38 593.5,778.68 593.5,776.08" fill="none" stroke="#FF9900" stroke-width="1.3" stroke-linejoin="round"/>
<polygon points="607.2,760.26 609.8,760.26 611.5,761.96 611.5,764.56 609.8,766.26 607.2,766.26 605.5,764.56 605.5,761.96" fill="none" stroke="#FF9900" stroke-width="1.3" stroke-linejoin="round"/>
<polygon points="619.2,742.49 621.8,742.49 623.5,744.19 623.5,746.79 621.8,748.49 619.2,748.49 617.5,746.79 617.5,744.19" fill="none" stroke="#FF9900" stroke-width="1.3" stroke-linejoin="round"/>
<polygon points="631.2,722.77 633.8,722.77 635.5,724.47 635.5,727.07 633.8,728.77 631.2,728.77 629.5,727.07 629.5,724.47" fill="none" stroke="#FF9900" stroke-width="1.3" stroke-linejoin="round"/>
<polygon points="642.95,706.22 645.55,706.22 647.25,707.92 647.25,710.52 645.55,712.22 642.95,712.22 641.25,710.52 641.25,707.92" fill="none" stroke="#FF9900" stroke-width="1.3" stroke-linejoin="round"/>
<polygon points="654.7,692.35 657.3,692.35 659,694.05 659,696.65 657.3,698.35 654.7,698.35 653,696.65 653,694.05" fill="none" stroke="#FF9900" stroke-width="1.3" stroke-linejoin="round"/>
<polygon points="666.45,681.63 669.05,681.63 670.75,683.33 670.75,685.93 669.05,687.63 666.45,687.63 664.75,685.93 664.75,683.33" fill="none" stroke="#FF9900" stroke-width="1.3" stroke-linejoin="round"/>
<polygon points="678.2,671.41 680.8,671.41 682.5,673.11 682.5,675.71 680.8,677.41 678.2,677.41 676.5,675.71 676.5,673.11" fill="none" stroke="#FF9900" stroke-width="1.3" stroke-linejoin="round"/>
<polygon points="690.2,621.26 692.8,621.26 694.5,622.96 694.5,625.56 692.8,627.26 690.2,627.26 688.5,625.56 688.5,622.96" fill="none" stroke="#FF9900" stroke-width="1.3" stroke-linejoin="round"/>
<polygon points="702.2,675.55 704.8,675.55 706.5,677.25 706.5,679.85 704.8,681.55 702.2,681.55 700.5,679.85 700.5,677.25" fill="none" stroke="#FF9900" stroke-width="1.3" stroke-linejoin="round"/>
<polygon points="714.2,673.36 716.8,673.36 718.5,675.06 718.5,677.66 716.8,679.36 714.2,679.36 712.5,677.66 712.5,675.06" fill="none" stroke="#FF9900" stroke-width="1.3" stroke-linejoin="round"/>
<polygon points="726.2,670.19 728.8,670.19 730.5,671.89 730.5,674.49 728.8,676.19 726.2,676.19 724.5,674.49 724.5,671.89" fill="none" stroke="#FF9900" stroke-width="1.3" stroke-linejoin="round"/>
<polygon points="738.2,668.49 740.8,668.49 742.5,670.19 742.5,672.79 740.8,674.49 738.2,674.49 736.5,672.79 736.5,670.19" fill="none" stroke="#FF9900" stroke-width="1.3" stroke-linejoin="round"/>
<polygon points="750.2,665.57 752.8,665.57 754.5,667.27 754.5,669.87 752.8,671.57 750.2,671.57 748.5,669.87 748.5,667.27" fill="none" stroke="#FF9900" stroke-width="1.3" stroke-linejoin="round"/>
<polygon points="762.2,662.16 764.8,662.16 766.5,663.86 766.5,666.46 764.8,668.16 762.2,668.16 760.5,666.46 760.5,663.86" fill="none" stroke="#FF9900" stroke-width="1.3" stroke-linejoin="round"/>
<polygon points="774.2,655.1 776.8,655.1 778.5,656.8 778.5,659.4 776.8,661.1 774.2,661.1 772.5,659.4 772.5,656.8" fill="none" stroke="#FF9900" stroke-width="1.3" stroke-linejoin="round"/>
<polygon points="785.95,647.56 788.55,647.56 790.25,649.26 790.25,651.86 788.55,653.56 785.95,653.56 784.25,651.86 784.25,649.26" fill="none" stroke="#FF9900" stroke-width="1.3" stroke-linejoin="round"/>
<polygon points="797.7,640.5 800.3,640.5 802,642.2 802,644.8 800.3,646.5 797.7,646.5 796,644.8 796,642.2" fill="none" stroke="#FF9900" stroke-width="1.3" stroke-linejoin="round"/>
<polygon points="809.45,633.54 812.05,633.54 813.75,635.24 813.75,637.84 812.05,639.54 809.45,639.54 807.75,637.84 807.75,635.24" fill="none" stroke="#FF9900" stroke-width="1.3" stroke-linejoin="round"/>
<polygon points="821.2,627.7 823.8,627.7 825.5,629.4 825.5,632 823.8,633.7 821.2,633.7 819.5,632 819.5,629.4" fill="none" stroke="#FF9900" stroke-width="1.3" stroke-linejoin="round"/>
<polygon points="833.2,620.4 835.8,620.4 837.5,622.1 837.5,624.7 835.8,626.4 833.2,626.4 831.5,624.7 831.5,622.1" fill="none" stroke="#FF9900" stroke-width="1.3" stroke-linejoin="round"/>
<polygon points="845.2,617.23 847.8,617.23 849.5,618.93 849.5,621.53 847.8,623.23 845.2,623.23 843.5,621.53 843.5,618.93" fill="none" stroke="#FF9900" stroke-width="1.3" stroke-linejoin="round"/>
<polygon points="857.2,612.61 859.8,612.61 861.5,614.31 861.5,616.91 859.8,618.61 857.2,618.61 855.5,616.91 855.5,614.31" fill="none" stroke="#FF9900" stroke-width="1.3" stroke-linejoin="round"/>
<polygon points="869.2,608.23 871.8,608.23 873.5,609.93 873.5,612.53 871.8,614.23 869.2,614.23 867.5,612.53 867.5,609.93" fill="none" stroke="#FF9900" stroke-width="1.3" stroke-linejoin="round"/>
<polygon points="881.2,603.6 883.8,603.6 885.5,605.3 885.5,607.9 883.8,609.6 881.2,609.6 879.5,607.9 879.5,605.3" fill="none" stroke="#FF9900" stroke-width="1.3" stroke-linejoin="round"/>
<polygon points="893.2,599.22 895.8,599.22 897.5,600.92 897.5,603.52 895.8,605.22 893.2,605.22 891.5,603.52 891.5,600.92" fill="none" stroke="#FF9900" stroke-width="1.3" stroke-linejoin="round"/>
<polygon points="905.2,595.33 907.8,595.33 909.5,597.03 909.5,599.63 907.8,601.33 905.2,601.33 903.5,599.63 903.5,597.03" fill="none" stroke="#FF9900" stroke-width="1.3" stroke-linejoin="round"/>
<polygon points="917.2,568.55 919.8,568.55 921.5,570.25 921.5,572.85 919.8,574.55 917.2,574.55 915.5,572.85 915.5,570.25" fill="none" stroke="#FF9900" stroke-width="1.3" stroke-linejoin="round"/>
<polygon points="929.2,569.77 931.8,569.77 933.5,571.47 933.5,574.07 931.8,575.77 929.2,575.77 927.5,574.07 927.5,571.47" fill="none" stroke="#FF9900" stroke-width="1.3" stroke-linejoin="round"/>
<polygon points="941.2,609.44 943.8,609.44 945.5,611.14 945.5,613.74 943.8,615.44 941.2,615.44 939.5,613.74 939.5,611.14" fill="none" stroke="#FF9900" stroke-width="1.3" stroke-linejoin="round"/>
<polygon points="953.2,609.44 955.8,609.44 957.5,611.14 957.5,613.74 955.8,615.44 953.2,615.44 951.5,613.74 951.5,611.14" fill="none" stroke="#FF9900" stroke-width="1.3" stroke-linejoin="round"/>
<polygon points="965.2,607.25 967.8,607.25 969.5,608.95 969.5,611.55 967.8,613.25 965.2,613.25 963.5,611.55 963.5,608.95" fill="none" stroke="#FF9900" stroke-width="1.3" stroke-linejoin="round"/>
<polygon points="976.95,603.6 979.55,603.6 981.25,605.3 981.25,607.9 979.55,609.6 976.95,609.6 975.25,607.9 975.25,605.3" fill="none" stroke="#FF9900" stroke-width="1.3" stroke-linejoin="round"/>
<polygon points="988.7,597.76 991.3,597.76 993,599.46 993,602.06 991.3,603.76 988.7,603.76 987,602.06 987,599.46" fill="none" stroke="#FF9900" stroke-width="1.3" stroke-linejoin="round"/>
<polygon points="1000.45,592.4 1003.05,592.4 1004.75,594.1 1004.75,596.7 1003.05,598.4 1000.45,598.4 998.75,596.7 998.75,594.1" fill="none" stroke="#FF9900" stroke-width="1.3" stroke-linejoin="round"/>
<polygon points="1012.2,585.59 1014.8,585.59 1016.5,587.29 1016.5,589.89 1014.8,591.59 1012.2,591.59 1010.5,589.89 1010.5,587.29" fill="none" stroke="#FF9900" stroke-width="1.3" stroke-linejoin="round"/>
<polygon points="1024.2,577.56 1026.8,577.56 1028.5,579.26 1028.5,581.86 1026.8,583.56 1024.2,583.56 1022.5,581.86 1022.5,579.26" fill="none" stroke="#FF9900" stroke-width="1.3" stroke-linejoin="round"/>
<polygon points="1036.2,570.5 1038.8,570.5 1040.5,572.2 1040.5,574.8 1038.8,576.5 1036.2,576.5 1034.5,574.8 1034.5,572.2" fill="none" stroke="#FF9900" stroke-width="1.3" stroke-linejoin="round"/>
<polygon points="1048.2,564.65 1050.8,564.65 1052.5,566.35 1052.5,568.95 1050.8,570.65 1048.2,570.65 1046.5,568.95 1046.5,566.35" fill="none" stroke="#FF9900" stroke-width="1.3" stroke-linejoin="round"/>
<polygon points="1060.2,558.57 1062.8,558.57 1064.5,560.27 1064.5,562.87 1062.8,564.57 1060.2,564.57 1058.5,562.87 1058.5,560.27" fill="none" stroke="#FF9900" stroke-width="1.3" stroke-linejoin="round"/>
<polygon points="1072.2,518.16 1074.8,518.16 1076.5,519.86 1076.5,522.46 1074.8,524.16 1072.2,524.16 1070.5,522.46 1070.5,519.86" fill="none" stroke="#FF9900" stroke-width="1.3" stroke-linejoin="round"/>
<polygon points="1084.2,518.16 1086.8,518.16 1088.5,519.86 1088.5,522.46 1086.8,524.16 1084.2,524.16 1082.5,522.46 1082.5,519.86" fill="none" stroke="#FF9900" stroke-width="1.3" stroke-linejoin="round"/>
<polygon points="1096.2,522.54 1098.8,522.54 1100.5,524.24 1100.5,526.84 1098.8,528.54 1096.2,528.54 1094.5,526.84 1094.5,524.24" fill="none" stroke="#FF9900" stroke-width="1.3" stroke-linejoin="round"/>
<polygon points="1108.2,525.22 1110.8,525.22 1112.5,526.92 1112.5,529.52 1110.8,531.22 1108.2,531.22 1106.5,529.52 1106.5,526.92" fill="none" stroke="#FF9900" stroke-width="1.3" stroke-linejoin="round"/>
<polygon points="1120.2,528.38 1122.8,528.38 1124.5,530.08 1124.5,532.68 1122.8,534.38 1120.2,534.38 1118.5,532.68 1118.5,530.08" fill="none" stroke="#FF9900" stroke-width="1.3" stroke-linejoin="round"/>
<polygon points="1132.2,530.57 1134.8,530.57 1136.5,532.27 1136.5,534.87 1134.8,536.57 1132.2,536.57 1130.5,534.87 1130.5,532.27" fill="none" stroke="#FF9900" stroke-width="1.3" stroke-linejoin="round"/>
<polygon points="1144.2,532.76 1146.8,532.76 1148.5,534.46 1148.5,537.06 1146.8,538.76 1144.2,538.76 1142.5,537.06 1142.5,534.46" fill="none" stroke="#FF9900" stroke-width="1.3" stroke-linejoin="round"/>
<polygon points="1156.2,535.2 1158.8,535.2 1160.5,536.9 1160.5,539.5 1158.8,541.2 1156.2,541.2 1154.5,539.5 1154.5,536.9" fill="none" stroke="#FF9900" stroke-width="1.3" stroke-linejoin="round"/>
<polygon points="1168.13,541.77 1170.73,541.77 1172.43,543.47 1172.43,546.07 1170.73,547.77 1168.13,547.77 1166.43,546.07 1166.43,543.47" fill="none" stroke="#FF9900" stroke-width="1.3" stroke-linejoin="round"/>
<text x="106.7" y="742.12" font-family="'Liberation Sans', sans-serif" font-size="10.2" font-weight="normal" fill="#000" text-anchor="start" textLength="5.8" lengthAdjust="spacingAndGlyphs">S</text>
<text x="249.7" y="766.47" font-family="'Liberation Sans', sans-serif" font-size="10.2" font-weight="normal" fill="#000" text-anchor="start" textLength="5.8" lengthAdjust="spacingAndGlyphs">B</text>
<text x="356.7" y="790.81" font-family="'Liberation Sans', sans-serif" font-size="10.2" font-weight="normal" fill="#000" text-anchor="start" textLength="5.8" lengthAdjust="spacingAndGlyphs">S</text>
<text x="475.95" y="831.7" font-family="'Liberation Sans', sans-serif" font-size="10.2" font-weight="normal" fill="#000" text-anchor="start" textLength="5.8" lengthAdjust="spacingAndGlyphs">B</text>
<text x="535.7" y="684.92" font-family="'Liberation Sans', sans-serif" font-size="10.2" font-weight="normal" fill="#000" text-anchor="start" textLength="5.8" lengthAdjust="spacingAndGlyphs">S</text>
<text x="547.7" y="731.66" font-family="'Liberation Sans', sans-serif" font-size="10.2" font-weight="normal" fill="#000" text-anchor="start" textLength="5.8" lengthAdjust="spacingAndGlyphs">B</text>
<text x="571.7" y="678.11" font-family="'Liberation Sans', sans-serif" font-size="10.2" font-weight="normal" fill="#000" text-anchor="start" textLength="5.8" lengthAdjust="spacingAndGlyphs">S</text>
<text x="607.7" y="665.7" font-family="'Liberation Sans', sans-serif" font-size="10.2" font-weight="normal" fill="#000" text-anchor="start" textLength="5.8" lengthAdjust="spacingAndGlyphs">B</text>
<text x="631.7" y="642.81" font-family="'Liberation Sans', sans-serif" font-size="10.2" font-weight="normal" fill="#000" text-anchor="start" textLength="5.8" lengthAdjust="spacingAndGlyphs">S</text>
<text x="702.7" y="637.7" font-family="'Liberation Sans', sans-serif" font-size="10.2" font-weight="normal" fill="#000" text-anchor="start" textLength="5.8" lengthAdjust="spacingAndGlyphs">B</text>
<text x="774.7" y="574.17" font-family="'Liberation Sans', sans-serif" font-size="10.2" font-weight="normal" fill="#000" text-anchor="start" textLength="5.8" lengthAdjust="spacingAndGlyphs">S</text>
<text x="869.7" y="568.43" font-family="'Liberation Sans', sans-serif" font-size="10.2" font-weight="normal" fill="#000" text-anchor="start" textLength="5.8" lengthAdjust="spacingAndGlyphs">S</text>
<text x="893.7" y="604.46" font-family="'Liberation Sans', sans-serif" font-size="10.2" font-weight="normal" fill="#000" text-anchor="start" textLength="5.8" lengthAdjust="spacingAndGlyphs">B</text>
<text x="1072.7" y="544.09" font-family="'Liberation Sans', sans-serif" font-size="10.2" font-weight="normal" fill="#000" text-anchor="start" textLength="5.8" lengthAdjust="spacingAndGlyphs">S</text>
<text x="1084.7" y="612.74" font-family="'Liberation Sans', sans-serif" font-size="10.2" font-weight="normal" fill="#000" text-anchor="start" textLength="5.8" lengthAdjust="spacingAndGlyphs">B</text>
<text x="1156.7" y="597.89" font-family="'Liberation Sans', sans-serif" font-size="10.2" font-weight="normal" fill="#000" text-anchor="start" textLength="5.8" lengthAdjust="spacingAndGlyphs">S</text>
<text transform="translate(1186.8,550.2) scale(1,1.15)" font-family="'Liberation Mono', monospace" font-size="9.7" fill="#FFA500">PARABOLI</text>
<g stroke="#ED1C24" stroke-width="5" stroke-linecap="round">
<line x1="1094.8" y1="540.5" x2="1227.4" y2="540.5"/>
<line x1="1156.9" y1="584.5" x2="1205" y2="584.5"/>
<line x1="748.3" y1="625.3" x2="1203.5" y2="625.3"/>
<line x1="705.2" y1="662.4" x2="1195.2" y2="662.4"/>
</g>
<g font-family="'Liberation Sans', 'Noto Sans CJK JP', sans-serif" font-size="13" font-weight="bold" fill="#111" text-anchor="start">
<text x="1206" y="613.5" textLength="130" lengthAdjust="spacingAndGlyphs">上下どちらの窓をうめ</text>
<text x="1206" y="639.5" textLength="130" lengthAdjust="spacingAndGlyphs">るか。上の窓をうめた</text>
<text x="1206" y="665.5" textLength="130" lengthAdjust="spacingAndGlyphs">ら、さらに上の窓まで</text>
<text x="1206" y="691.6" textLength="130" lengthAdjust="spacingAndGlyphs">上値余地広がるので、</text>
<text x="1206" y="717.7" textLength="117" lengthAdjust="spacingAndGlyphs">短期で買ってもいい</text>
<text x="1206" y="743.8" textLength="130" lengthAdjust="spacingAndGlyphs">し。下の窓をうめるな</text>
<text x="1206" y="769.8" textLength="130" lengthAdjust="spacingAndGlyphs">ら、さらに下の窓まで</text>
<text x="1206" y="795.9" textLength="130" lengthAdjust="spacingAndGlyphs">下値余地広がるので、</text>
<text x="1206" y="821.9" textLength="39" lengthAdjust="spacingAndGlyphs">売り。</text>
</g>
</svg></body></html>
